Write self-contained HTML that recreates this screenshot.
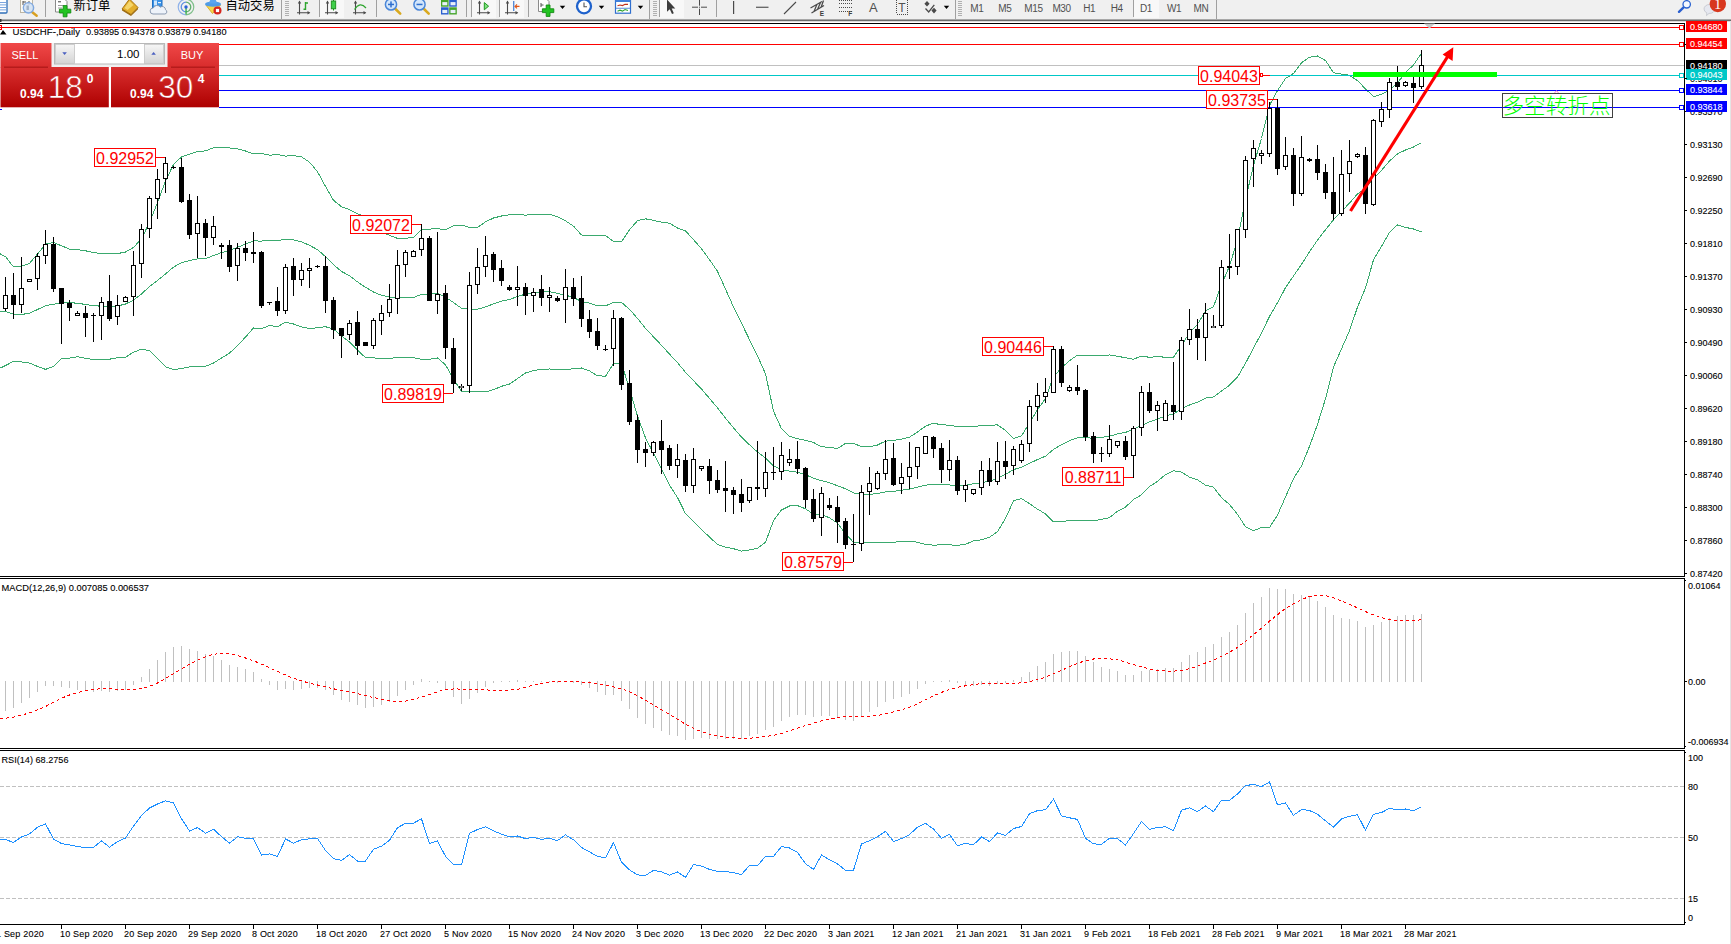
<!DOCTYPE html>
<html><head><meta charset="utf-8"><title>USDCHF Daily</title>
<style>html,body{margin:0;padding:0;background:#fff;overflow:hidden}svg text{white-space:pre}</style></head>
<body><svg width="1731" height="944" viewBox="0 0 1731 944" font-family='"Liberation Sans","Noto Sans CJK SC",sans-serif' style="display:block">
<rect x="0" y="0" width="1731" height="944" fill="#fff" />
<g id="toolbar">
<rect x="0" y="0" width="1731" height="19" fill="#f0f0f0"/>
<rect x="0" y="19" width="1731" height="1" fill="#a8a8a8"/>
<rect x="0" y="20" width="1731" height="1" fill="#6c6c6c"/>
<rect x="0" y="21" width="1731" height="1" fill="#dcdcdc"/>
<rect x="0" y="19" width="1.5" height="3" fill="#333"/>
<rect x="-2" y="-3" width="9" height="16" rx="1" fill="#fff" stroke="#2f6fb8" stroke-width="1.3"/>
<rect x="0" y="2" width="6" height="0.8" fill="#5b8fd6"/>
<rect x="0" y="4.5" width="6" height="0.8" fill="#5b8fd6"/>
<rect x="0" y="7" width="6" height="0.8" fill="#5b8fd6"/>
<rect x="0" y="9.5" width="6" height="0.8" fill="#5b8fd6"/>
<rect x="20.5" y="-3" width="12" height="15.5" fill="#fbfaf5" stroke="#bdb6a5" stroke-width="1"/>
<path d="M23 5 v-4 M23 2 h3 M29 5 v-4 M27 3 h2" stroke="#555" stroke-width="1" fill="none"/>
<line x1="32" y1="12" x2="36.7" y2="15.8" stroke="#d8a021" stroke-width="2.4" stroke-linecap="round"/>
<circle cx="28.5" cy="7.8" r="5.2" fill="#cfe0f5" fill-opacity="0.85" stroke="#7fa8e0" stroke-width="1.3"/>
<rect x="26.5" y="5.5" width="2.4" height="4.5" fill="#9fb2c8"/>
<rect x="45" y="0" width="1" height="17" fill="#a0a0a0" shape-rendering="crispEdges"/>
<path d="M55.5 -2 h8 l3.5 3.5 v10.5 h-11.5z" fill="#fff" stroke="#8a8a8a" stroke-width="1"/>
<rect x="58" y="1" width="3" height="1.4" fill="#777"/><rect x="58" y="5" width="6" height="1" fill="#999"/><rect x="58" y="7.5" width="4" height="1" fill="#999"/>
<path d="M63.2 5.6 h3.8 v3.6 h3.8 v3.8 h-3.8 v3.8 h-3.8 v-3.8 h-3.8 v-3.8 h3.8z" fill="#22c322" stroke="#128a12" stroke-width="0.9"/>
<text x="73.5" y="9.5" font-size="12.3" fill="#000">新订单</text>
<path d="M129.5 -1 L138 7.5 L131 14.5 L122 9 Z" fill="#e3ae2c" stroke="#a87410" stroke-width="1"/>
<path d="M129.5 1 L133.5 5 L127.5 10 L124.5 8 Z" fill="#f5d56a"/>
<path d="M122 9 L131 14.5 L138 7.5 L138 9.2 L131 16 L122 10.6Z" fill="#9c6a10"/>
<rect x="152.5" y="-2" width="9.5" height="10" fill="#3a92e6" stroke="#1f6fc4" stroke-width="1"/>
<rect x="154" y="0.5" width="3" height="5" fill="#cfe6fb"/><rect x="158" y="2" width="3" height="1.2" fill="#e8f3fd"/>
<path d="M153 14 a3 3 0 0 1 0.3 -6 a4 4 0 0 1 7 -0.8 a3.2 3.2 0 0 1 5.2 2.6 a2.2 2.2 0 0 1 -0.6 4.2z" fill="#eef3fa" stroke="#8b9bb2" stroke-width="1"/>
<path d="M186 14.8 A7.8 7.8 0 0 1 186 -0.8" fill="none" stroke="#8fb2ea" stroke-width="1.2"/>
<path d="M186 11.8 A4.8 4.8 0 0 1 186 2.2" fill="none" stroke="#5f8fe0" stroke-width="1.3"/>
<path d="M186 -0.8 A7.8 7.8 0 0 1 186 14.8" fill="none" stroke="#7fbf8a" stroke-width="1.2"/>
<path d="M186 2.2 A4.8 4.8 0 0 1 186 11.8" fill="none" stroke="#5fae6c" stroke-width="1.3"/>
<rect x="185.4" y="7" width="1.3" height="7.5" fill="#2fae3f"/>
<circle cx="186" cy="7" r="1.7" fill="#2a62d8"/>
<path d="M206 5.2 L212.5 13.6 L220.5 5.2Z" fill="#f6d64a" stroke="#d1a51e" stroke-width="0.8"/>
<ellipse cx="213" cy="4.2" rx="8" ry="2.6" fill="#4f9be6"/>
<path d="M209 3.5 q1 -5 4 -6 q3 1 4 6z" fill="#5aa5ee"/>
<circle cx="217.5" cy="10.5" r="4" fill="#d6261c"/>
<rect x="215.9" y="8.9" width="3.2" height="3.2" fill="#fff"/>
<text x="225.5" y="9.5" font-size="12.3" fill="#000">自动交易</text>
<rect x="281" y="0" width="1" height="19" fill="#a0a0a0" shape-rendering="crispEdges"/>
<rect x="285" y="1" width="4" height="1" fill="#b0b0b0" shape-rendering="crispEdges"/>
<rect x="285" y="3" width="4" height="1" fill="#b0b0b0" shape-rendering="crispEdges"/>
<rect x="285" y="5" width="4" height="1" fill="#b0b0b0" shape-rendering="crispEdges"/>
<rect x="285" y="7" width="4" height="1" fill="#b0b0b0" shape-rendering="crispEdges"/>
<rect x="285" y="9" width="4" height="1" fill="#b0b0b0" shape-rendering="crispEdges"/>
<rect x="285" y="11" width="4" height="1" fill="#b0b0b0" shape-rendering="crispEdges"/>
<rect x="285" y="13" width="4" height="1" fill="#b0b0b0" shape-rendering="crispEdges"/>
<rect x="285" y="15" width="4" height="1" fill="#b0b0b0" shape-rendering="crispEdges"/>
<path d="M299.5 14.5 V1.5 M297 12.7 H309.5" stroke="#4a4a4a" stroke-width="1.1" fill="none"/>
<path d="M297.8 3.4 L299.5 0.6 L301.2 3.4Z M307.5 11 L310.3 12.7 L307.5 14.4Z" fill="#4a4a4a"/>
<path d="M305.5 2 V10 M305.5 3 H308 M303.5 9.2 H305.5" stroke="#2ea52e" stroke-width="1.4" fill="none"/>
<rect x="319" y="0" width="1" height="17" fill="#a0a0a0" shape-rendering="crispEdges"/>
<rect x="320" y="0" width="24" height="18" fill="#f8f8f8"/>
<path d="M327.5 14.5 V1.5 M325 12.7 H337.5" stroke="#4a4a4a" stroke-width="1.1" fill="none"/>
<path d="M325.8 3.4 L327.5 0.6 L329.2 3.4Z M335.5 11 L338.3 12.7 L335.5 14.4Z" fill="#4a4a4a"/>
<rect x="333" y="-0.5" width="1" height="11" fill="#1d8a1d"/><rect x="331.3" y="1" width="4.4" height="7.8" fill="#3fd04a" stroke="#1d8a1d" stroke-width="0.9"/>
<path d="M355.5 14.5 V1.5 M353 12.7 H365.5" stroke="#4a4a4a" stroke-width="1.1" fill="none"/>
<path d="M353.8 3.4 L355.5 0.6 L357.2 3.4Z M363.5 11 L366.3 12.7 L363.5 14.4Z" fill="#4a4a4a"/>
<path d="M354.5 9.5 Q360 1 366 8" stroke="#2ea52e" stroke-width="1.2" fill="none"/>
<rect x="376" y="0" width="1" height="17" fill="#a0a0a0" shape-rendering="crispEdges"/>
<line x1="395" y1="8.5" x2="400.2" y2="13.6" stroke="#d9a91f" stroke-width="2.6" stroke-linecap="round"/>
<circle cx="391" cy="4.4" r="5.6" fill="#d3e6fb" stroke="#4a86d8" stroke-width="1.5"/>
<rect x="388" y="3.7" width="6" height="1.5" fill="#2f6fce"/>
<rect x="390.25" y="1.4" width="1.5" height="6" fill="#2f6fce"/>
<line x1="423.5" y1="8.5" x2="428.7" y2="13.6" stroke="#d9a91f" stroke-width="2.6" stroke-linecap="round"/>
<circle cx="419.5" cy="4.4" r="5.6" fill="#d3e6fb" stroke="#4a86d8" stroke-width="1.5"/>
<rect x="416.5" y="3.7" width="6" height="1.5" fill="#2f6fce"/>
<rect x="441" y="-0.5" width="7.6" height="7.2" fill="#46a52a"/>
<rect x="442.3" y="2.1" width="5" height="3.2" fill="#e8f0fa"/>
<rect x="449.2" y="-0.5" width="7.6" height="7.2" fill="#2a5fd0"/>
<rect x="450.5" y="2.1" width="5" height="3.2" fill="#e8f0fa"/>
<rect x="441" y="7.3" width="7.6" height="7.2" fill="#2a5fd0"/>
<rect x="442.3" y="9.9" width="5" height="3.2" fill="#e8f0fa"/>
<rect x="449.2" y="7.3" width="7.6" height="7.2" fill="#46a52a"/>
<rect x="450.5" y="9.9" width="5" height="3.2" fill="#e8f0fa"/>
<rect x="466" y="0" width="1" height="17" fill="#a0a0a0" shape-rendering="crispEdges"/>
<rect x="471" y="0" width="1" height="17" fill="#a0a0a0" shape-rendering="crispEdges"/>
<rect x="472" y="0" width="24" height="18" fill="#f8f8f8"/>
<path d="M479.5 14.5 V1.5 M477 12.7 H489.5" stroke="#4a4a4a" stroke-width="1.1" fill="none"/>
<path d="M477.8 3.4 L479.5 0.6 L481.2 3.4Z M487.5 11 L490.3 12.7 L487.5 14.4Z" fill="#4a4a4a"/>
<polygon points="484.3,2.6 484.3,9.8 488.6,6.2" fill="#7fe07f" stroke="#1f9a1f" stroke-width="1"/>
<rect x="499" y="0" width="1" height="17" fill="#a0a0a0" shape-rendering="crispEdges"/>
<rect x="500" y="0" width="24" height="18" fill="#f8f8f8"/>
<path d="M507.5 14.5 V1.5 M505 12.7 H517.5" stroke="#4a4a4a" stroke-width="1.1" fill="none"/>
<path d="M505.8 3.4 L507.5 0.6 L509.2 3.4Z M515.5 11 L518.3 12.7 L515.5 14.4Z" fill="#4a4a4a"/>
<rect x="513.2" y="1" width="1.1" height="10" fill="#2f6fce"/>
<path d="M519.5 6.4 H515 M517 4.4 L515 6.4 L517 8.4" stroke="#e0561a" stroke-width="1.1" fill="none"/>
<rect x="528" y="0" width="1" height="17" fill="#a0a0a0" shape-rendering="crispEdges"/>
<path d="M538.5 -2 h7 l3.5 3.5 v10 h-10.5z" fill="#fff" stroke="#8a8a8a" stroke-width="1"/>
<path d="M541 3 v4 M541 5 h2.5" stroke="#555" stroke-width="1" fill="none"/>
<path d="M546.2 5 h3.8 v3.8 h3.8 v3.8 h-3.8 v3.8 h-3.8 v-3.8 h-3.8 v-3.8 h3.8z" fill="#22c322" stroke="#128a12" stroke-width="0.9"/>
<polygon points="559.8,5.8 565.2,5.8 562.5,9" fill="#000"/>
<circle cx="584" cy="6.3" r="7" fill="#fff" stroke="#1f62cc" stroke-width="2.3"/>
<path d="M584 2.5 V6.8 H587" stroke="#555" stroke-width="1.1" fill="none"/>
<polygon points="598.8,5.8 604.2,5.8 601.5,9" fill="#000"/>
<rect x="615.5" y="-1" width="15" height="14.2" fill="#fff" stroke="#2f6fce" stroke-width="1.2"/>
<rect x="615.5" y="-1" width="15" height="3" fill="#3f7fdc"/>
<path d="M617.5 5.8 l2.5 -0.8 l2.5 0.6 l2.5 -1.4 l3 0.2" stroke="#c0301c" stroke-width="1.1" fill="none"/>
<rect x="616" y="7.8" width="14" height="0.8" fill="#2f6fce"/>
<path d="M617.5 11.2 l2.5 -1 l2.5 0.9 l2.5 -1.6 l3 1" stroke="#2ea52e" stroke-width="1.1" fill="none"/>
<polygon points="637.8,5.8 643.2,5.8 640.5,9" fill="#000"/>
<rect x="649" y="0" width="1" height="19" fill="#a0a0a0" shape-rendering="crispEdges"/>
<rect x="653" y="1" width="4" height="1" fill="#b0b0b0" shape-rendering="crispEdges"/>
<rect x="653" y="3" width="4" height="1" fill="#b0b0b0" shape-rendering="crispEdges"/>
<rect x="653" y="5" width="4" height="1" fill="#b0b0b0" shape-rendering="crispEdges"/>
<rect x="653" y="7" width="4" height="1" fill="#b0b0b0" shape-rendering="crispEdges"/>
<rect x="653" y="9" width="4" height="1" fill="#b0b0b0" shape-rendering="crispEdges"/>
<rect x="653" y="11" width="4" height="1" fill="#b0b0b0" shape-rendering="crispEdges"/>
<rect x="653" y="13" width="4" height="1" fill="#b0b0b0" shape-rendering="crispEdges"/>
<rect x="653" y="15" width="4" height="1" fill="#b0b0b0" shape-rendering="crispEdges"/>
<rect x="660" y="0" width="24" height="18" fill="#f8f8f8"/>
<rect x="659" y="0" width="1" height="17" fill="#a0a0a0" shape-rendering="crispEdges"/>
<path d="M667 -0.5 L667 11.8 L669.8 9.2 L672 14 L673.8 13.2 L671.7 8.6 L675.3 8.4Z" fill="#3c3c3c"/>
<path d="M699.5 0 V5.7 M699.5 8.7 V15 M692 7.2 H698 M701 7.2 H707" stroke="#4a4a4a" stroke-width="1" fill="none"/><rect x="699" y="6.7" width="1" height="1" fill="#4a4a4a"/>
<rect x="716" y="0" width="1" height="17" fill="#a0a0a0" shape-rendering="crispEdges"/>
<rect x="733" y="1" width="1.2" height="13" fill="#4a4a4a"/>
<rect x="756" y="6.7" width="12.5" height="1.1" fill="#4a4a4a"/>
<line x1="784" y1="14" x2="796" y2="2" stroke="#4a4a4a" stroke-width="1.1"/>
<path d="M810.5 8 L822 1.5 M811.5 13 L824 5.5 M814 11.5 L817 4.2 M817.5 9.5 L820.5 2.5 M821 7.5 L823.5 0.5" stroke="#4a4a4a" stroke-width="1.25" fill="none"/>
<text x="819.7" y="16.3" font-size="6.5" font-weight="bold" fill="#3c3c3c">E</text>
<line x1="838.5" y1="0.5" x2="852" y2="0.5" stroke="#4a4a4a" stroke-width="1" stroke-dasharray="1 1" shape-rendering="crispEdges"/>
<line x1="838.5" y1="3.5" x2="852" y2="3.5" stroke="#4a4a4a" stroke-width="1" stroke-dasharray="1 1" shape-rendering="crispEdges"/>
<line x1="838.5" y1="7.5" x2="852" y2="7.5" stroke="#4a4a4a" stroke-width="1" stroke-dasharray="1 1" shape-rendering="crispEdges"/>
<line x1="838.5" y1="11.5" x2="852" y2="11.5" stroke="#4a4a4a" stroke-width="1" stroke-dasharray="1 1" shape-rendering="crispEdges"/>
<text x="848.3" y="16.3" font-size="6.5" font-weight="bold" fill="#3c3c3c">F</text>
<text x="869" y="12" font-size="13" fill="#505050">A</text>
<rect x="896.5" y="-1" width="11" height="15" fill="none" stroke="#4a4a4a" stroke-width="1" stroke-dasharray="1 1" shape-rendering="crispEdges"/>
<text x="898.2" y="12.2" font-size="12" fill="#505050">T</text>
<path d="M927 1 l2.6 2.8 l-2.6 2.8 l-2.6 -2.8z M934 7.8 l2.6 2.8 l-2.6 2.8 l-2.6 -2.8z" fill="#4a4a4a"/>
<path d="M925.5 8.5 l3.2 3.4 l5.6 -7" stroke="#4a4a4a" stroke-width="1.3" fill="none"/>
<polygon points="943.8,5.8 949.2,5.8 946.5,9" fill="#000"/>
<rect x="955" y="0" width="1" height="19" fill="#a0a0a0" shape-rendering="crispEdges"/>
<rect x="958" y="1" width="4" height="1" fill="#b0b0b0" shape-rendering="crispEdges"/>
<rect x="958" y="3" width="4" height="1" fill="#b0b0b0" shape-rendering="crispEdges"/>
<rect x="958" y="5" width="4" height="1" fill="#b0b0b0" shape-rendering="crispEdges"/>
<rect x="958" y="7" width="4" height="1" fill="#b0b0b0" shape-rendering="crispEdges"/>
<rect x="958" y="9" width="4" height="1" fill="#b0b0b0" shape-rendering="crispEdges"/>
<rect x="958" y="11" width="4" height="1" fill="#b0b0b0" shape-rendering="crispEdges"/>
<rect x="958" y="13" width="4" height="1" fill="#b0b0b0" shape-rendering="crispEdges"/>
<rect x="958" y="15" width="4" height="1" fill="#b0b0b0" shape-rendering="crispEdges"/>
<text x="970.3" y="11.6" font-size="10" fill="#505050" letter-spacing="-0.4">M1</text>
<text x="998.3" y="11.6" font-size="10" fill="#505050" letter-spacing="-0.4">M5</text>
<text x="1024.3" y="11.6" font-size="10" fill="#505050" letter-spacing="-0.4">M15</text>
<text x="1052.4" y="11.6" font-size="10" fill="#505050" letter-spacing="-0.4">M30</text>
<text x="1083.2" y="11.6" font-size="10" fill="#505050" letter-spacing="-0.4">H1</text>
<text x="1110.7" y="11.6" font-size="10" fill="#505050" letter-spacing="-0.4">H4</text>
<rect x="1133" y="0" width="1" height="17" fill="#a0a0a0" shape-rendering="crispEdges"/>
<rect x="1134" y="0" width="25" height="18" fill="#f8f8f8"/>
<text x="1140" y="11.6" font-size="10" fill="#505050" letter-spacing="-0.4">D1</text>
<text x="1167" y="11.6" font-size="10" fill="#505050" letter-spacing="-0.4">W1</text>
<text x="1193.5" y="11.6" font-size="10" fill="#505050" letter-spacing="-0.4">MN</text>
<rect x="1216" y="0" width="1" height="19" fill="#a0a0a0" shape-rendering="crispEdges"/>
<line x1="1683.6" y1="7.4" x2="1679" y2="11.8" stroke="#2a5fd0" stroke-width="2.4" stroke-linecap="round"/>
<circle cx="1686.7" cy="4.3" r="3.7" fill="#f4f8ff" stroke="#2a62d0" stroke-width="1.3"/>
<path d="M1704 9 a5.5 4.5 0 0 1 11 0 a5.5 4.5 0 0 1 -6 4.4 l-2.5 2.2 l0.3 -2.8 a5 4.5 0 0 1 -2.8 -3.8z" fill="#e6e8f0" stroke="#c2c4cc" stroke-width="0.8"/>
<circle cx="1717.8" cy="4" r="8.2" fill="#d8381f"/>
<text x="1717.8" y="9.2" font-size="14" fill="#fff" text-anchor="middle" font-family='"Liberation Serif",serif'>1</text>
</g>
<g shape-rendering="crispEdges">
<rect x="0" y="23" width="1685" height="1" fill="#000" />
<rect x="1684" y="23" width="1" height="554" fill="#000" />
<rect x="1684" y="578" width="1" height="171" fill="#000" />
<rect x="1684" y="750" width="1" height="175" fill="#000" />
<rect x="0" y="576" width="1685" height="1" fill="#000" />
<rect x="0" y="578" width="1685" height="1" fill="#000" />
<rect x="0" y="748" width="1685" height="1" fill="#000" />
<rect x="0" y="750" width="1685" height="1" fill="#000" />
<rect x="0" y="924" width="1685" height="1" fill="#000" />
<rect x="1730" y="21" width="1" height="923" fill="#e4e4e4" />
<rect x="0" y="65" width="1684" height="1" fill="#c0c0c0" />
</g>
<polyline points="0.0,253.8 5.5,256.6 13.5,266.9 21.5,266.3 29.5,263.3 37.5,254.1 45.5,244.1 53.5,242.5 61.5,245.8 69.5,249.1 77.5,249.6 85.5,250.8 93.5,252.5 101.5,253.6 109.5,253.6 117.5,253.6 125.5,252.0 133.5,247.5 141.5,238.8 149.5,222.5 157.5,202.4 165.5,181.0 173.5,164.5 181.5,156.9 189.5,154.3 197.5,151.4 205.5,150.9 213.5,147.8 221.5,147.2 229.5,148.0 237.5,148.9 245.5,151.0 253.5,153.8 261.5,153.4 269.5,155.2 277.5,154.5 285.5,156.1 293.5,155.6 301.5,156.8 309.5,162.1 317.5,171.7 325.5,186.4 333.5,200.3 341.5,206.7 349.5,209.6 357.5,213.8 365.5,216.8 373.5,226.1 381.5,232.2 389.5,235.3 397.5,238.4 405.5,238.2 413.5,237.7 421.5,229.2 429.5,229.1 437.5,228.7 445.5,229.8 453.5,225.9 461.5,225.1 469.5,227.3 477.5,227.4 485.5,221.9 493.5,218.0 501.5,216.0 509.5,214.8 517.5,214.5 525.5,215.1 533.5,214.6 541.5,214.4 549.5,214.2 557.5,216.8 565.5,220.9 573.5,226.1 581.5,235.0 589.5,235.2 597.5,235.5 605.5,235.4 613.5,241.4 621.5,241.6 629.5,229.9 637.5,220.6 645.5,218.8 653.5,220.4 661.5,222.1 669.5,223.2 677.5,228.0 685.5,231.0 693.5,239.6 701.5,248.8 709.5,259.7 717.5,271.3 725.5,289.0 733.5,307.0 741.5,323.1 749.5,339.7 757.5,355.8 765.5,373.8 773.5,411.1 781.5,428.7 789.5,436.4 797.5,438.7 805.5,440.3 813.5,442.5 821.5,446.7 829.5,447.5 837.5,448.5 845.5,443.4 853.5,443.6 861.5,446.4 869.5,446.7 877.5,445.0 885.5,441.1 893.5,440.5 901.5,439.1 909.5,437.2 917.5,432.0 925.5,426.2 933.5,423.1 941.5,424.9 949.5,425.1 957.5,426.6 965.5,426.2 973.5,426.7 981.5,425.5 989.5,425.3 997.5,424.9 1005.5,430.4 1013.5,438.4 1021.5,435.8 1029.5,423.1 1037.5,409.8 1045.5,398.5 1053.5,376.8 1061.5,367.8 1069.5,360.7 1077.5,355.1 1085.5,355.1 1093.5,355.2 1101.5,355.3 1109.5,355.0 1117.5,356.3 1125.5,357.7 1133.5,359.2 1141.5,356.1 1149.5,357.3 1157.5,356.7 1165.5,357.2 1173.5,357.3 1181.5,345.5 1189.5,332.8 1197.5,324.2 1205.5,311.0 1213.5,306.7 1221.5,284.7 1229.5,265.9 1237.5,239.9 1245.5,199.7 1253.5,165.2 1261.5,138.5 1269.5,105.4 1277.5,90.5 1285.5,78.5 1293.5,73.4 1301.5,62.7 1309.5,57.2 1317.5,56.0 1325.5,60.5 1333.5,72.7 1341.5,74.1 1349.5,75.3 1357.5,80.6 1365.5,88.9 1373.5,96.6 1381.5,94.4 1389.5,89.8 1397.5,82.9 1405.5,72.6 1413.5,64.9 1421.5,53.2" fill="none" stroke="#3aaa6e" stroke-width="1" shape-rendering="crispEdges"/>
<polyline points="0.0,311.2 5.5,311.5 13.5,314.3 21.5,314.5 29.5,313.2 37.5,309.5 45.5,305.7 53.5,304.3 61.5,302.3 69.5,302.7 77.5,303.2 85.5,304.5 93.5,305.7 101.5,306.2 109.5,306.5 117.5,306.0 125.5,304.0 133.5,300.2 141.5,294.0 149.5,286.5 157.5,280.5 165.5,273.9 173.5,267.1 181.5,262.7 189.5,260.6 197.5,258.9 205.5,258.6 213.5,255.5 221.5,252.6 229.5,250.5 237.5,247.3 245.5,244.1 253.5,240.9 261.5,241.1 269.5,240.3 277.5,240.6 285.5,239.1 293.5,239.8 301.5,241.9 309.5,245.3 317.5,249.7 325.5,256.6 333.5,264.7 341.5,271.4 349.5,275.8 357.5,281.9 365.5,287.3 373.5,292.0 381.5,295.3 389.5,297.0 397.5,297.8 405.5,297.8 413.5,297.6 421.5,294.3 429.5,294.2 437.5,293.3 445.5,297.3 453.5,302.5 461.5,308.3 469.5,309.2 477.5,309.2 485.5,306.9 493.5,303.9 501.5,301.2 509.5,299.5 517.5,296.5 525.5,294.1 533.5,292.6 541.5,291.8 549.5,291.6 557.5,293.4 565.5,295.1 573.5,297.5 581.5,301.5 589.5,303.1 597.5,305.7 605.5,305.8 613.5,302.5 621.5,302.4 629.5,309.3 637.5,318.4 645.5,328.3 653.5,336.9 661.5,345.3 669.5,354.1 677.5,362.7 685.5,372.3 693.5,380.7 701.5,389.1 709.5,398.4 717.5,407.9 725.5,418.1 733.5,427.9 741.5,437.1 749.5,444.8 757.5,452.0 765.5,458.1 773.5,465.9 781.5,469.4 789.5,471.2 797.5,472.2 805.5,474.5 813.5,478.4 821.5,480.6 829.5,482.7 837.5,485.8 845.5,488.7 853.5,493.0 861.5,494.2 869.5,494.4 877.5,493.6 885.5,491.9 893.5,491.4 901.5,490.2 909.5,489.2 917.5,487.1 925.5,485.3 933.5,484.1 941.5,484.9 949.5,484.9 957.5,486.0 965.5,485.3 973.5,483.8 981.5,482.6 989.5,481.3 997.5,478.3 1005.5,474.4 1013.5,469.6 1021.5,467.2 1029.5,463.4 1037.5,459.5 1045.5,456.2 1053.5,449.4 1061.5,444.7 1069.5,440.7 1077.5,437.8 1085.5,437.9 1093.5,438.1 1101.5,437.3 1109.5,436.3 1117.5,433.8 1125.5,432.4 1133.5,429.4 1141.5,425.4 1149.5,421.9 1157.5,419.1 1165.5,415.9 1173.5,414.0 1181.5,408.8 1189.5,405.0 1197.5,402.1 1205.5,398.1 1213.5,396.9 1221.5,391.1 1229.5,385.2 1237.5,377.1 1245.5,363.3 1253.5,348.0 1261.5,333.0 1269.5,316.4 1277.5,302.8 1285.5,287.7 1293.5,276.0 1301.5,264.3 1309.5,251.8 1317.5,240.2 1325.5,229.7 1333.5,219.8 1341.5,211.5 1349.5,203.1 1357.5,193.9 1365.5,188.5 1373.5,178.2 1381.5,170.3 1389.5,161.0 1397.5,153.9 1405.5,150.0 1413.5,147.0 1421.5,142.6" fill="none" stroke="#3aaa6e" stroke-width="1" shape-rendering="crispEdges"/>
<polyline points="0.0,368.2 5.5,365.5 13.5,361.4 21.5,361.9 29.5,363.1 37.5,366.4 45.5,369.4 53.5,366.4 61.5,358.6 69.5,358.1 77.5,356.7 85.5,358.4 93.5,359.4 101.5,359.4 109.5,359.2 117.5,357.7 125.5,357.2 133.5,352.2 141.5,349.2 149.5,350.6 157.5,358.6 165.5,366.8 173.5,369.6 181.5,368.6 189.5,366.8 197.5,366.4 205.5,366.3 213.5,363.1 221.5,358.0 229.5,353.1 237.5,345.7 245.5,337.1 253.5,328.0 261.5,328.8 269.5,325.5 277.5,326.8 285.5,322.2 293.5,324.0 301.5,326.9 309.5,328.6 317.5,327.7 325.5,326.7 333.5,329.1 341.5,336.0 349.5,342.0 357.5,350.1 365.5,357.7 373.5,357.9 381.5,358.4 389.5,358.7 397.5,357.2 405.5,357.4 413.5,357.6 421.5,359.4 429.5,359.2 437.5,357.9 445.5,364.8 453.5,379.2 461.5,391.5 469.5,391.0 477.5,391.0 485.5,391.9 493.5,389.7 501.5,386.3 509.5,384.1 517.5,378.6 525.5,373.0 533.5,370.6 541.5,369.3 549.5,369.0 557.5,369.9 565.5,369.3 573.5,368.9 581.5,368.0 589.5,370.9 597.5,375.8 605.5,376.2 613.5,363.6 621.5,363.3 629.5,388.7 637.5,416.2 645.5,437.8 653.5,453.4 661.5,468.6 669.5,485.1 677.5,497.5 685.5,513.6 693.5,521.7 701.5,529.4 709.5,537.1 717.5,544.4 725.5,547.1 733.5,548.7 741.5,551.1 749.5,549.9 757.5,548.2 765.5,542.4 773.5,520.6 781.5,510.0 789.5,506.0 797.5,505.6 805.5,508.8 813.5,514.3 821.5,514.5 829.5,517.8 837.5,523.1 845.5,534.0 853.5,542.3 861.5,542.1 869.5,542.1 877.5,542.1 885.5,542.8 893.5,542.4 901.5,541.2 909.5,541.2 917.5,542.2 925.5,544.4 933.5,545.2 941.5,544.8 949.5,544.8 957.5,545.4 965.5,544.3 973.5,540.8 981.5,539.8 989.5,537.3 997.5,531.7 1005.5,518.3 1013.5,500.8 1021.5,498.6 1029.5,503.7 1037.5,509.2 1045.5,513.8 1053.5,522.0 1061.5,521.5 1069.5,520.6 1077.5,520.6 1085.5,520.6 1093.5,521.0 1101.5,519.3 1109.5,517.6 1117.5,511.2 1125.5,507.1 1133.5,499.5 1141.5,494.8 1149.5,486.5 1157.5,481.4 1165.5,474.6 1173.5,470.7 1181.5,472.1 1189.5,477.1 1197.5,479.9 1205.5,485.2 1213.5,487.2 1221.5,497.6 1229.5,504.5 1237.5,514.3 1245.5,526.8 1253.5,530.8 1261.5,527.4 1269.5,527.5 1277.5,515.1 1285.5,497.0 1293.5,478.6 1301.5,465.9 1309.5,446.4 1317.5,424.4 1325.5,398.8 1333.5,366.9 1341.5,348.8 1349.5,330.8 1357.5,307.1 1365.5,288.0 1373.5,259.8 1381.5,246.3 1389.5,232.3 1397.5,224.9 1405.5,227.4 1413.5,229.0 1421.5,231.9" fill="none" stroke="#3aaa6e" stroke-width="1" shape-rendering="crispEdges"/>
<g shape-rendering="crispEdges">
<rect x="0" y="27" width="1684" height="1" fill="#ff0000" />
<rect x="1679.5" y="25.5" width="4" height="4" fill="#fff" stroke="#ff0000" stroke-width="1"/>
<rect x="0" y="44" width="1684" height="1" fill="#ff0000" />
<rect x="1679.5" y="42.5" width="4" height="4" fill="#fff" stroke="#ff0000" stroke-width="1"/>
<rect x="0" y="75" width="1684" height="1" fill="#00c8c8" />
<rect x="1679.5" y="73.5" width="4" height="4" fill="#fff" stroke="#00c8c8" stroke-width="1"/>
<rect x="0" y="90" width="1684" height="1" fill="#0000ff" />
<rect x="1679.5" y="88.5" width="4" height="4" fill="#fff" stroke="#0000ff" stroke-width="1"/>
<rect x="0" y="107" width="1684" height="1" fill="#0000ff" />
<rect x="1679.5" y="105.5" width="4" height="4" fill="#fff" stroke="#0000ff" stroke-width="1"/>
<rect x="5" y="277" width="1" height="34" fill="#000" />
<rect x="3" y="295" width="5" height="14" fill="#000" />
<rect x="4" y="296" width="3" height="12" fill="#fff" />
<rect x="13" y="273" width="1" height="46" fill="#000" />
<rect x="11" y="295" width="5" height="10" fill="#000" />
<rect x="21" y="257" width="1" height="56" fill="#000" />
<rect x="19" y="288" width="5" height="17" fill="#000" />
<rect x="20" y="289" width="3" height="15" fill="#fff" />
<rect x="29" y="279" width="1" height="3" fill="#000" />
<rect x="27" y="279" width="5" height="3" fill="#000" />
<rect x="28" y="280" width="3" height="1" fill="#fff" />
<rect x="37" y="253" width="1" height="37" fill="#000" />
<rect x="35" y="256" width="5" height="23" fill="#000" />
<rect x="36" y="257" width="3" height="21" fill="#fff" />
<rect x="45" y="230" width="1" height="34" fill="#000" />
<rect x="43" y="244" width="5" height="12" fill="#000" />
<rect x="44" y="245" width="3" height="10" fill="#fff" />
<rect x="53" y="237" width="1" height="55" fill="#000" />
<rect x="51" y="244" width="5" height="45" fill="#000" />
<rect x="61" y="288" width="1" height="56" fill="#000" />
<rect x="59" y="288" width="5" height="16" fill="#000" />
<rect x="69" y="300" width="1" height="21" fill="#000" />
<rect x="67" y="303" width="5" height="5" fill="#000" />
<rect x="77" y="311" width="1" height="5" fill="#000" />
<rect x="75" y="313" width="5" height="3" fill="#000" />
<rect x="76" y="314" width="3" height="1" fill="#fff" />
<rect x="85" y="306" width="1" height="31" fill="#000" />
<rect x="83" y="313" width="5" height="5" fill="#000" />
<rect x="93" y="313" width="1" height="29" fill="#000" />
<rect x="91" y="315" width="5" height="1" fill="#000" />
<rect x="101" y="297" width="1" height="43" fill="#000" />
<rect x="99" y="302" width="5" height="14" fill="#000" />
<rect x="100" y="303" width="3" height="12" fill="#fff" />
<rect x="109" y="275" width="1" height="46" fill="#000" />
<rect x="107" y="301" width="5" height="18" fill="#000" />
<rect x="117" y="295" width="1" height="30" fill="#000" />
<rect x="115" y="305" width="5" height="12" fill="#000" />
<rect x="116" y="306" width="3" height="10" fill="#fff" />
<rect x="125" y="296" width="1" height="6" fill="#000" />
<rect x="123" y="297" width="5" height="5" fill="#000" />
<rect x="124" y="298" width="3" height="3" fill="#fff" />
<rect x="133" y="251" width="1" height="65" fill="#000" />
<rect x="131" y="265" width="5" height="32" fill="#000" />
<rect x="132" y="266" width="3" height="30" fill="#fff" />
<rect x="141" y="224" width="1" height="54" fill="#000" />
<rect x="139" y="229" width="5" height="35" fill="#000" />
<rect x="140" y="230" width="3" height="33" fill="#fff" />
<rect x="149" y="196" width="1" height="42" fill="#000" />
<rect x="147" y="198" width="5" height="31" fill="#000" />
<rect x="148" y="199" width="3" height="29" fill="#fff" />
<rect x="157" y="169" width="1" height="50" fill="#000" />
<rect x="155" y="179" width="5" height="20" fill="#000" />
<rect x="156" y="180" width="3" height="18" fill="#fff" />
<rect x="165" y="157" width="1" height="36" fill="#000" />
<rect x="163" y="163" width="5" height="16" fill="#000" />
<rect x="164" y="164" width="3" height="14" fill="#fff" />
<rect x="173" y="166" width="1" height="3" fill="#000" />
<rect x="171" y="167" width="5" height="1" fill="#000" />
<rect x="181" y="158" width="1" height="45" fill="#000" />
<rect x="179" y="167" width="5" height="35" fill="#000" />
<rect x="189" y="194" width="1" height="45" fill="#000" />
<rect x="187" y="200" width="5" height="35" fill="#000" />
<rect x="197" y="196" width="1" height="62" fill="#000" />
<rect x="195" y="223" width="5" height="11" fill="#000" />
<rect x="196" y="224" width="3" height="9" fill="#fff" />
<rect x="205" y="219" width="1" height="37" fill="#000" />
<rect x="203" y="223" width="5" height="15" fill="#000" />
<rect x="213" y="216" width="1" height="29" fill="#000" />
<rect x="211" y="226" width="5" height="12" fill="#000" />
<rect x="212" y="227" width="3" height="10" fill="#fff" />
<rect x="221" y="243" width="1" height="16" fill="#000" />
<rect x="219" y="245" width="5" height="2" fill="#000" />
<rect x="229" y="240" width="1" height="32" fill="#000" />
<rect x="227" y="245" width="5" height="22" fill="#000" />
<rect x="237" y="243" width="1" height="38" fill="#000" />
<rect x="235" y="248" width="5" height="18" fill="#000" />
<rect x="236" y="249" width="3" height="16" fill="#fff" />
<rect x="245" y="241" width="1" height="20" fill="#000" />
<rect x="243" y="248" width="5" height="5" fill="#000" />
<rect x="253" y="232" width="1" height="31" fill="#000" />
<rect x="251" y="252" width="5" height="2" fill="#000" />
<rect x="261" y="251" width="1" height="57" fill="#000" />
<rect x="259" y="252" width="5" height="54" fill="#000" />
<rect x="269" y="302" width="1" height="3" fill="#000" />
<rect x="267" y="302" width="5" height="1" fill="#000" />
<rect x="277" y="287" width="1" height="29" fill="#000" />
<rect x="275" y="301" width="5" height="10" fill="#000" />
<rect x="285" y="264" width="1" height="50" fill="#000" />
<rect x="283" y="267" width="5" height="44" fill="#000" />
<rect x="284" y="268" width="3" height="42" fill="#fff" />
<rect x="293" y="258" width="1" height="38" fill="#000" />
<rect x="291" y="266" width="5" height="14" fill="#000" />
<rect x="301" y="263" width="1" height="23" fill="#000" />
<rect x="299" y="270" width="5" height="10" fill="#000" />
<rect x="300" y="271" width="3" height="8" fill="#fff" />
<rect x="309" y="258" width="1" height="30" fill="#000" />
<rect x="307" y="268" width="5" height="3" fill="#000" />
<rect x="308" y="269" width="3" height="1" fill="#fff" />
<rect x="317" y="265" width="1" height="3" fill="#000" />
<rect x="315" y="266" width="5" height="1" fill="#000" />
<rect x="325" y="256" width="1" height="57" fill="#000" />
<rect x="323" y="266" width="5" height="35" fill="#000" />
<rect x="333" y="297" width="1" height="42" fill="#000" />
<rect x="331" y="300" width="5" height="30" fill="#000" />
<rect x="341" y="328" width="1" height="30" fill="#000" />
<rect x="339" y="328" width="5" height="8" fill="#000" />
<rect x="349" y="320" width="1" height="20" fill="#000" />
<rect x="347" y="323" width="5" height="12" fill="#000" />
<rect x="348" y="324" width="3" height="10" fill="#fff" />
<rect x="357" y="311" width="1" height="44" fill="#000" />
<rect x="355" y="322" width="5" height="24" fill="#000" />
<rect x="365" y="342" width="1" height="4" fill="#000" />
<rect x="363" y="342" width="5" height="4" fill="#000" />
<rect x="373" y="318" width="1" height="31" fill="#000" />
<rect x="371" y="320" width="5" height="26" fill="#000" />
<rect x="372" y="321" width="3" height="24" fill="#fff" />
<rect x="381" y="305" width="1" height="30" fill="#000" />
<rect x="379" y="313" width="5" height="8" fill="#000" />
<rect x="380" y="314" width="3" height="6" fill="#fff" />
<rect x="389" y="284" width="1" height="33" fill="#000" />
<rect x="387" y="299" width="5" height="14" fill="#000" />
<rect x="388" y="300" width="3" height="12" fill="#fff" />
<rect x="397" y="250" width="1" height="64" fill="#000" />
<rect x="395" y="265" width="5" height="34" fill="#000" />
<rect x="396" y="266" width="3" height="32" fill="#fff" />
<rect x="405" y="250" width="1" height="27" fill="#000" />
<rect x="403" y="252" width="5" height="13" fill="#000" />
<rect x="404" y="253" width="3" height="11" fill="#fff" />
<rect x="413" y="250" width="1" height="7" fill="#000" />
<rect x="411" y="251" width="5" height="6" fill="#000" />
<rect x="412" y="252" width="3" height="4" fill="#fff" />
<rect x="421" y="224" width="1" height="32" fill="#000" />
<rect x="419" y="238" width="5" height="12" fill="#000" />
<rect x="420" y="239" width="3" height="10" fill="#fff" />
<rect x="429" y="236" width="1" height="65" fill="#000" />
<rect x="427" y="238" width="5" height="63" fill="#000" />
<rect x="437" y="232" width="1" height="82" fill="#000" />
<rect x="435" y="294" width="5" height="7" fill="#000" />
<rect x="436" y="295" width="3" height="5" fill="#fff" />
<rect x="445" y="285" width="1" height="74" fill="#000" />
<rect x="443" y="293" width="5" height="55" fill="#000" />
<rect x="453" y="338" width="1" height="55" fill="#000" />
<rect x="451" y="348" width="5" height="36" fill="#000" />
<rect x="461" y="384" width="1" height="7" fill="#000" />
<rect x="459" y="386" width="5" height="2" fill="#000" />
</g><rect x="460" y="386.55" width="3" height="0.9" fill="#fff"/><g shape-rendering="crispEdges">
<rect x="469" y="272" width="1" height="121" fill="#000" />
<rect x="467" y="285" width="5" height="101" fill="#000" />
<rect x="468" y="286" width="3" height="99" fill="#fff" />
<rect x="477" y="248" width="1" height="46" fill="#000" />
<rect x="475" y="267" width="5" height="18" fill="#000" />
<rect x="476" y="268" width="3" height="16" fill="#fff" />
<rect x="485" y="236" width="1" height="41" fill="#000" />
<rect x="483" y="255" width="5" height="12" fill="#000" />
<rect x="484" y="256" width="3" height="10" fill="#fff" />
<rect x="493" y="252" width="1" height="30" fill="#000" />
<rect x="491" y="254" width="5" height="16" fill="#000" />
<rect x="501" y="260" width="1" height="26" fill="#000" />
<rect x="499" y="268" width="5" height="13" fill="#000" />
<rect x="509" y="285" width="1" height="6" fill="#000" />
<rect x="507" y="287" width="5" height="3" fill="#000" />
<rect x="517" y="266" width="1" height="40" fill="#000" />
<rect x="515" y="287" width="5" height="3" fill="#000" />
<rect x="516" y="288" width="3" height="1" fill="#fff" />
<rect x="525" y="283" width="1" height="32" fill="#000" />
<rect x="523" y="287" width="5" height="9" fill="#000" />
<rect x="533" y="288" width="1" height="24" fill="#000" />
<rect x="531" y="292" width="5" height="4" fill="#000" />
<rect x="532" y="293" width="3" height="2" fill="#fff" />
<rect x="541" y="275" width="1" height="31" fill="#000" />
<rect x="539" y="289" width="5" height="9" fill="#000" />
<rect x="549" y="287" width="1" height="25" fill="#000" />
<rect x="547" y="295" width="5" height="3" fill="#000" />
<rect x="548" y="296" width="3" height="1" fill="#fff" />
<rect x="557" y="296" width="1" height="6" fill="#000" />
<rect x="555" y="298" width="5" height="3" fill="#000" />
<rect x="565" y="269" width="1" height="54" fill="#000" />
<rect x="563" y="287" width="5" height="13" fill="#000" />
<rect x="564" y="288" width="3" height="11" fill="#fff" />
<rect x="573" y="278" width="1" height="28" fill="#000" />
<rect x="571" y="287" width="5" height="12" fill="#000" />
<rect x="581" y="276" width="1" height="51" fill="#000" />
<rect x="579" y="298" width="5" height="21" fill="#000" />
<rect x="589" y="310" width="1" height="28" fill="#000" />
<rect x="587" y="319" width="5" height="13" fill="#000" />
<rect x="597" y="318" width="1" height="32" fill="#000" />
<rect x="595" y="331" width="5" height="15" fill="#000" />
<rect x="605" y="345" width="1" height="6" fill="#000" />
<rect x="603" y="349" width="5" height="1" fill="#000" />
<rect x="613" y="310" width="1" height="56" fill="#000" />
<rect x="611" y="318" width="5" height="31" fill="#000" />
<rect x="612" y="319" width="3" height="29" fill="#fff" />
<rect x="621" y="317" width="1" height="73" fill="#000" />
<rect x="619" y="318" width="5" height="67" fill="#000" />
<rect x="629" y="370" width="1" height="55" fill="#000" />
<rect x="627" y="383" width="5" height="39" fill="#000" />
<rect x="637" y="415" width="1" height="48" fill="#000" />
<rect x="635" y="420" width="5" height="30" fill="#000" />
<rect x="645" y="442" width="1" height="25" fill="#000" />
<rect x="643" y="449" width="5" height="4" fill="#000" />
<rect x="653" y="441" width="1" height="15" fill="#000" />
<rect x="651" y="442" width="5" height="11" fill="#000" />
<rect x="652" y="443" width="3" height="9" fill="#fff" />
<rect x="661" y="420" width="1" height="54" fill="#000" />
<rect x="659" y="441" width="5" height="9" fill="#000" />
<rect x="669" y="445" width="1" height="25" fill="#000" />
<rect x="667" y="448" width="5" height="18" fill="#000" />
<rect x="677" y="444" width="1" height="34" fill="#000" />
<rect x="675" y="459" width="5" height="7" fill="#000" />
<rect x="676" y="460" width="3" height="5" fill="#fff" />
<rect x="685" y="454" width="1" height="38" fill="#000" />
<rect x="683" y="460" width="5" height="26" fill="#000" />
<rect x="693" y="448" width="1" height="45" fill="#000" />
<rect x="691" y="459" width="5" height="27" fill="#000" />
<rect x="692" y="460" width="3" height="25" fill="#fff" />
<rect x="701" y="466" width="1" height="5" fill="#000" />
<rect x="699" y="466" width="5" height="3" fill="#000" />
<rect x="700" y="467" width="3" height="1" fill="#fff" />
<rect x="709" y="459" width="1" height="35" fill="#000" />
<rect x="707" y="466" width="5" height="15" fill="#000" />
<rect x="717" y="470" width="1" height="23" fill="#000" />
<rect x="715" y="480" width="5" height="10" fill="#000" />
<rect x="725" y="461" width="1" height="51" fill="#000" />
<rect x="723" y="488" width="5" height="3" fill="#000" />
<rect x="733" y="487" width="1" height="27" fill="#000" />
<rect x="731" y="490" width="5" height="5" fill="#000" />
<rect x="741" y="479" width="1" height="33" fill="#000" />
<rect x="739" y="494" width="5" height="9" fill="#000" />
<rect x="749" y="487" width="1" height="16" fill="#000" />
<rect x="747" y="487" width="5" height="14" fill="#000" />
<rect x="748" y="488" width="3" height="12" fill="#fff" />
<rect x="757" y="441" width="1" height="59" fill="#000" />
<rect x="755" y="487" width="5" height="2" fill="#000" />
<rect x="765" y="452" width="1" height="45" fill="#000" />
<rect x="763" y="472" width="5" height="17" fill="#000" />
<rect x="764" y="473" width="3" height="15" fill="#fff" />
<rect x="773" y="447" width="1" height="33" fill="#000" />
<rect x="771" y="472" width="5" height="1" fill="#000" />
<rect x="781" y="442" width="1" height="38" fill="#000" />
<rect x="779" y="455" width="5" height="17" fill="#000" />
<rect x="780" y="456" width="3" height="15" fill="#fff" />
<rect x="789" y="449" width="1" height="17" fill="#000" />
<rect x="787" y="459" width="5" height="4" fill="#000" />
<rect x="788" y="460" width="3" height="2" fill="#fff" />
<rect x="797" y="441" width="1" height="33" fill="#000" />
<rect x="795" y="459" width="5" height="10" fill="#000" />
<rect x="805" y="467" width="1" height="41" fill="#000" />
<rect x="803" y="468" width="5" height="32" fill="#000" />
<rect x="813" y="489" width="1" height="33" fill="#000" />
<rect x="811" y="499" width="5" height="20" fill="#000" />
<rect x="821" y="487" width="1" height="49" fill="#000" />
<rect x="819" y="493" width="5" height="25" fill="#000" />
<rect x="820" y="494" width="3" height="23" fill="#fff" />
<rect x="829" y="498" width="1" height="12" fill="#000" />
<rect x="827" y="505" width="5" height="3" fill="#000" />
<rect x="837" y="496" width="1" height="47" fill="#000" />
<rect x="835" y="507" width="5" height="15" fill="#000" />
<rect x="845" y="518" width="1" height="31" fill="#000" />
<rect x="843" y="521" width="5" height="24" fill="#000" />
<rect x="853" y="514" width="1" height="48" fill="#000" />
<rect x="851" y="544" width="5" height="1" fill="#000" />
<rect x="861" y="485" width="1" height="66" fill="#000" />
<rect x="859" y="492" width="5" height="52" fill="#000" />
<rect x="860" y="493" width="3" height="50" fill="#fff" />
<rect x="869" y="467" width="1" height="48" fill="#000" />
<rect x="867" y="483" width="5" height="9" fill="#000" />
<rect x="868" y="484" width="3" height="7" fill="#fff" />
<rect x="877" y="471" width="1" height="19" fill="#000" />
<rect x="875" y="473" width="5" height="16" fill="#000" />
<rect x="876" y="474" width="3" height="14" fill="#fff" />
<rect x="885" y="440" width="1" height="40" fill="#000" />
<rect x="883" y="459" width="5" height="15" fill="#000" />
<rect x="884" y="460" width="3" height="13" fill="#fff" />
<rect x="893" y="443" width="1" height="43" fill="#000" />
<rect x="891" y="458" width="5" height="27" fill="#000" />
<rect x="901" y="463" width="1" height="31" fill="#000" />
<rect x="899" y="477" width="5" height="7" fill="#000" />
<rect x="900" y="478" width="3" height="5" fill="#fff" />
<rect x="909" y="442" width="1" height="47" fill="#000" />
<rect x="907" y="467" width="5" height="10" fill="#000" />
<rect x="908" y="468" width="3" height="8" fill="#fff" />
<rect x="917" y="447" width="1" height="32" fill="#000" />
<rect x="915" y="447" width="5" height="20" fill="#000" />
<rect x="916" y="448" width="3" height="18" fill="#fff" />
<rect x="925" y="436" width="1" height="18" fill="#000" />
<rect x="923" y="436" width="5" height="18" fill="#000" />
<rect x="924" y="437" width="3" height="16" fill="#fff" />
<rect x="933" y="436" width="1" height="22" fill="#000" />
<rect x="931" y="437" width="5" height="12" fill="#000" />
<rect x="941" y="443" width="1" height="40" fill="#000" />
<rect x="939" y="448" width="5" height="22" fill="#000" />
<rect x="949" y="440" width="1" height="41" fill="#000" />
<rect x="947" y="460" width="5" height="10" fill="#000" />
<rect x="948" y="461" width="3" height="8" fill="#fff" />
<rect x="957" y="456" width="1" height="39" fill="#000" />
<rect x="955" y="460" width="5" height="31" fill="#000" />
<rect x="965" y="480" width="1" height="22" fill="#000" />
<rect x="963" y="485" width="5" height="5" fill="#000" />
<rect x="964" y="486" width="3" height="3" fill="#fff" />
<rect x="973" y="489" width="1" height="6" fill="#000" />
<rect x="971" y="489" width="5" height="5" fill="#000" />
<rect x="972" y="490" width="3" height="3" fill="#fff" />
<rect x="981" y="461" width="1" height="34" fill="#000" />
<rect x="979" y="470" width="5" height="18" fill="#000" />
<rect x="980" y="471" width="3" height="16" fill="#fff" />
<rect x="989" y="458" width="1" height="28" fill="#000" />
<rect x="987" y="470" width="5" height="12" fill="#000" />
<rect x="997" y="442" width="1" height="43" fill="#000" />
<rect x="995" y="461" width="5" height="21" fill="#000" />
<rect x="996" y="462" width="3" height="19" fill="#fff" />
<rect x="1005" y="441" width="1" height="38" fill="#000" />
<rect x="1003" y="461" width="5" height="6" fill="#000" />
<rect x="1013" y="446" width="1" height="29" fill="#000" />
<rect x="1011" y="449" width="5" height="17" fill="#000" />
<rect x="1012" y="450" width="3" height="15" fill="#fff" />
<rect x="1021" y="440" width="1" height="23" fill="#000" />
<rect x="1019" y="444" width="5" height="17" fill="#000" />
<rect x="1020" y="445" width="3" height="15" fill="#fff" />
<rect x="1029" y="400" width="1" height="52" fill="#000" />
<rect x="1027" y="406" width="5" height="38" fill="#000" />
<rect x="1028" y="407" width="3" height="36" fill="#fff" />
<rect x="1037" y="383" width="1" height="38" fill="#000" />
<rect x="1035" y="395" width="5" height="12" fill="#000" />
<rect x="1036" y="396" width="3" height="10" fill="#fff" />
<rect x="1045" y="378" width="1" height="25" fill="#000" />
<rect x="1043" y="392" width="5" height="5" fill="#000" />
<rect x="1044" y="393" width="3" height="3" fill="#fff" />
<rect x="1053" y="346" width="1" height="47" fill="#000" />
<rect x="1051" y="349" width="5" height="44" fill="#000" />
<rect x="1052" y="350" width="3" height="42" fill="#fff" />
<rect x="1061" y="346" width="1" height="41" fill="#000" />
<rect x="1059" y="349" width="5" height="34" fill="#000" />
<rect x="1069" y="385" width="1" height="7" fill="#000" />
<rect x="1067" y="387" width="5" height="4" fill="#000" />
<rect x="1068" y="388" width="3" height="2" fill="#fff" />
<rect x="1077" y="365" width="1" height="30" fill="#000" />
<rect x="1075" y="387" width="5" height="4" fill="#000" />
<rect x="1085" y="389" width="1" height="52" fill="#000" />
<rect x="1083" y="390" width="5" height="47" fill="#000" />
<rect x="1093" y="432" width="1" height="31" fill="#000" />
<rect x="1091" y="436" width="5" height="18" fill="#000" />
<rect x="1101" y="447" width="1" height="15" fill="#000" />
<rect x="1099" y="453" width="5" height="1" fill="#000" />
<rect x="1109" y="425" width="1" height="32" fill="#000" />
<rect x="1107" y="439" width="5" height="15" fill="#000" />
<rect x="1108" y="440" width="3" height="13" fill="#fff" />
<rect x="1117" y="441" width="1" height="7" fill="#000" />
<rect x="1115" y="441" width="5" height="5" fill="#000" />
<rect x="1116" y="442" width="3" height="3" fill="#fff" />
<rect x="1125" y="436" width="1" height="24" fill="#000" />
<rect x="1123" y="441" width="5" height="16" fill="#000" />
<rect x="1133" y="426" width="1" height="52" fill="#000" />
<rect x="1131" y="428" width="5" height="28" fill="#000" />
<rect x="1132" y="429" width="3" height="26" fill="#fff" />
<rect x="1141" y="386" width="1" height="50" fill="#000" />
<rect x="1139" y="392" width="5" height="36" fill="#000" />
<rect x="1140" y="393" width="3" height="34" fill="#fff" />
<rect x="1149" y="383" width="1" height="30" fill="#000" />
<rect x="1147" y="392" width="5" height="19" fill="#000" />
<rect x="1157" y="401" width="1" height="30" fill="#000" />
<rect x="1155" y="405" width="5" height="6" fill="#000" />
<rect x="1156" y="406" width="3" height="4" fill="#fff" />
<rect x="1165" y="400" width="1" height="21" fill="#000" />
<rect x="1163" y="403" width="5" height="18" fill="#000" />
<rect x="1164" y="404" width="3" height="16" fill="#fff" />
<rect x="1173" y="362" width="1" height="58" fill="#000" />
<rect x="1171" y="405" width="5" height="7" fill="#000" />
<rect x="1181" y="337" width="1" height="83" fill="#000" />
<rect x="1179" y="340" width="5" height="72" fill="#000" />
<rect x="1180" y="341" width="3" height="70" fill="#fff" />
<rect x="1189" y="309" width="1" height="36" fill="#000" />
<rect x="1187" y="329" width="5" height="11" fill="#000" />
<rect x="1188" y="330" width="3" height="9" fill="#fff" />
<rect x="1197" y="319" width="1" height="41" fill="#000" />
<rect x="1195" y="329" width="5" height="9" fill="#000" />
<rect x="1205" y="303" width="1" height="58" fill="#000" />
<rect x="1203" y="313" width="5" height="25" fill="#000" />
<rect x="1204" y="314" width="3" height="23" fill="#fff" />
<rect x="1213" y="315" width="1" height="13" fill="#000" />
<rect x="1211" y="326" width="5" height="2" fill="#000" />
</g><rect x="1212" y="326.55" width="3" height="0.9" fill="#fff"/><g shape-rendering="crispEdges">
<rect x="1221" y="260" width="1" height="68" fill="#000" />
<rect x="1219" y="267" width="5" height="59" fill="#000" />
<rect x="1220" y="268" width="3" height="57" fill="#fff" />
<rect x="1229" y="234" width="1" height="45" fill="#000" />
<rect x="1227" y="266" width="5" height="2" fill="#000" />
<rect x="1237" y="229" width="1" height="46" fill="#000" />
<rect x="1235" y="229" width="5" height="38" fill="#000" />
<rect x="1236" y="230" width="3" height="36" fill="#fff" />
<rect x="1245" y="156" width="1" height="82" fill="#000" />
<rect x="1243" y="160" width="5" height="70" fill="#000" />
<rect x="1244" y="161" width="3" height="68" fill="#fff" />
<rect x="1253" y="140" width="1" height="47" fill="#000" />
<rect x="1251" y="148" width="5" height="11" fill="#000" />
<rect x="1252" y="149" width="3" height="9" fill="#fff" />
<rect x="1261" y="150" width="1" height="14" fill="#000" />
<rect x="1259" y="153" width="5" height="3" fill="#000" />
<rect x="1260" y="154" width="3" height="1" fill="#fff" />
<rect x="1269" y="102" width="1" height="55" fill="#000" />
<rect x="1267" y="108" width="5" height="46" fill="#000" />
<rect x="1268" y="109" width="3" height="44" fill="#fff" />
<rect x="1277" y="99" width="1" height="76" fill="#000" />
<rect x="1275" y="108" width="5" height="61" fill="#000" />
<rect x="1285" y="137" width="1" height="33" fill="#000" />
<rect x="1283" y="155" width="5" height="12" fill="#000" />
<rect x="1284" y="156" width="3" height="10" fill="#fff" />
<rect x="1293" y="148" width="1" height="58" fill="#000" />
<rect x="1291" y="155" width="5" height="39" fill="#000" />
<rect x="1301" y="136" width="1" height="60" fill="#000" />
<rect x="1299" y="157" width="5" height="37" fill="#000" />
<rect x="1300" y="158" width="3" height="35" fill="#fff" />
<rect x="1309" y="158" width="1" height="4" fill="#000" />
<rect x="1307" y="159" width="5" height="2" fill="#000" />
<rect x="1317" y="145" width="1" height="35" fill="#000" />
<rect x="1315" y="159" width="5" height="14" fill="#000" />
<rect x="1325" y="164" width="1" height="35" fill="#000" />
<rect x="1323" y="172" width="5" height="21" fill="#000" />
<rect x="1333" y="157" width="1" height="63" fill="#000" />
<rect x="1331" y="192" width="5" height="22" fill="#000" />
<rect x="1341" y="150" width="1" height="66" fill="#000" />
<rect x="1339" y="174" width="5" height="40" fill="#000" />
<rect x="1340" y="175" width="3" height="38" fill="#fff" />
<rect x="1349" y="140" width="1" height="52" fill="#000" />
<rect x="1347" y="161" width="5" height="13" fill="#000" />
<rect x="1348" y="162" width="3" height="11" fill="#fff" />
<rect x="1357" y="153" width="1" height="5" fill="#000" />
<rect x="1355" y="154" width="5" height="3" fill="#000" />
<rect x="1356" y="155" width="3" height="1" fill="#fff" />
<rect x="1365" y="147" width="1" height="67" fill="#000" />
<rect x="1363" y="155" width="5" height="49" fill="#000" />
<rect x="1373" y="119" width="1" height="87" fill="#000" />
<rect x="1371" y="120" width="5" height="85" fill="#000" />
<rect x="1372" y="121" width="3" height="83" fill="#fff" />
<rect x="1381" y="102" width="1" height="25" fill="#000" />
<rect x="1379" y="109" width="5" height="13" fill="#000" />
<rect x="1380" y="110" width="3" height="11" fill="#fff" />
<rect x="1389" y="78" width="1" height="40" fill="#000" />
<rect x="1387" y="82" width="5" height="28" fill="#000" />
<rect x="1388" y="83" width="3" height="26" fill="#fff" />
<rect x="1397" y="66" width="1" height="24" fill="#000" />
<rect x="1395" y="82" width="5" height="5" fill="#000" />
<rect x="1405" y="81" width="1" height="6" fill="#000" />
<rect x="1403" y="82" width="5" height="4" fill="#000" />
<rect x="1404" y="83" width="3" height="2" fill="#fff" />
<rect x="1413" y="77" width="1" height="26" fill="#000" />
<rect x="1411" y="83" width="5" height="5" fill="#000" />
<rect x="1421" y="50" width="1" height="39" fill="#000" />
<rect x="1419" y="65" width="5" height="22" fill="#000" />
<rect x="1420" y="66" width="3" height="20" fill="#fff" />
</g>
<rect x="1353" y="72" width="144" height="5" fill="#00ff00" shape-rendering="crispEdges"/>
<line x1="1350.5" y1="211" x2="1448" y2="56" stroke="#ff0000" stroke-width="3.2"/>
<polygon points="1453.3,47.3 1442.6,54.6 1452.6,61" fill="#ff0000"/>
<polygon points="1424,23.5 1435,23.5 1429.5,28.5" fill="#c8c8c8"/>
<rect x="94.5" y="148.5" width="61" height="18" fill="#fff" stroke="#ff0000" stroke-width="1" shape-rendering="crispEdges"/>
<text x="125" y="164" font-size="16" fill="#ff0000" text-anchor="middle" >0.92952</text>
<rect x="156" y="157" width="9" height="1" fill="#ff0000" shape-rendering="crispEdges"/>
<rect x="350.5" y="215.5" width="61" height="18" fill="#fff" stroke="#ff0000" stroke-width="1" shape-rendering="crispEdges"/>
<text x="381" y="231" font-size="16" fill="#ff0000" text-anchor="middle" >0.92072</text>
<rect x="412" y="224" width="9" height="1" fill="#ff0000" shape-rendering="crispEdges"/>
<rect x="382.5" y="384.5" width="61" height="18" fill="#fff" stroke="#ff0000" stroke-width="1" shape-rendering="crispEdges"/>
<text x="413" y="400" font-size="16" fill="#ff0000" text-anchor="middle" >0.89819</text>
<rect x="444" y="393" width="9" height="1" fill="#ff0000" shape-rendering="crispEdges"/>
<rect x="782.5" y="552.5" width="61" height="18" fill="#fff" stroke="#ff0000" stroke-width="1" shape-rendering="crispEdges"/>
<text x="813" y="568" font-size="16" fill="#ff0000" text-anchor="middle" >0.87579</text>
<rect x="844" y="562" width="9" height="1" fill="#ff0000" shape-rendering="crispEdges"/>
<rect x="982.5" y="337.5" width="61" height="18" fill="#fff" stroke="#ff0000" stroke-width="1" shape-rendering="crispEdges"/>
<text x="1013" y="353" font-size="16" fill="#ff0000" text-anchor="middle" >0.90446</text>
<rect x="1044" y="346" width="9" height="1" fill="#ff0000" shape-rendering="crispEdges"/>
<rect x="1062.5" y="467.5" width="61" height="18" fill="#fff" stroke="#ff0000" stroke-width="1" shape-rendering="crispEdges"/>
<text x="1093" y="483" font-size="16" fill="#ff0000" text-anchor="middle" >0.88711</text>
<rect x="1124" y="477" width="9" height="1" fill="#ff0000" shape-rendering="crispEdges"/>
<rect x="1198.5" y="66.5" width="61" height="18" fill="#fff" stroke="#ff0000" stroke-width="1" shape-rendering="crispEdges"/>
<text x="1229" y="82" font-size="16" fill="#ff0000" text-anchor="middle" >0.94043</text>
<rect x="1260.5" y="73.5" width="2" height="3" fill="#fff" stroke="#ff0000" shape-rendering="crispEdges"/>
<rect x="1263" y="75" width="7" height="1" fill="#ff0000" shape-rendering="crispEdges"/>
<rect x="1206.5" y="90.5" width="61" height="18" fill="#fff" stroke="#ff0000" stroke-width="1" shape-rendering="crispEdges"/>
<text x="1237" y="106" font-size="16" fill="#ff0000" text-anchor="middle" >0.93735</text>
<rect x="1268" y="99" width="9" height="1" fill="#ff0000" shape-rendering="crispEdges"/>
<rect x="1502.5" y="93.5" width="110" height="24" fill="none" stroke="#404040" stroke-width="1" shape-rendering="crispEdges"/>
<text x="1502.5" y="113" font-size="21" fill="#00ff00" text-anchor="start" font-weight="300" textLength="108" lengthAdjust="spacingAndGlyphs">多空转折点</text>
<path d="M1554.5 93 L1556.5 90.6 L1558.5 93" stroke="#ff7ac8" stroke-width="1" fill="none"/>
<rect x="1685" y="78" width="2" height="1" fill="#000" shape-rendering="crispEdges"/>
<text x="1690" y="81.7" font-size="9" fill="#000" text-anchor="start"  stroke="#000" stroke-width="0.1">0.94010</text>
<rect x="1685" y="111" width="2" height="1" fill="#000" shape-rendering="crispEdges"/>
<text x="1690" y="114.7" font-size="9" fill="#000" text-anchor="start"  stroke="#000" stroke-width="0.1">0.93570</text>
<rect x="1685" y="144" width="2" height="1" fill="#000" shape-rendering="crispEdges"/>
<text x="1690" y="147.7" font-size="9" fill="#000" text-anchor="start"  stroke="#000" stroke-width="0.1">0.93130</text>
<rect x="1685" y="177" width="2" height="1" fill="#000" shape-rendering="crispEdges"/>
<text x="1690" y="180.7" font-size="9" fill="#000" text-anchor="start"  stroke="#000" stroke-width="0.1">0.92690</text>
<rect x="1685" y="210" width="2" height="1" fill="#000" shape-rendering="crispEdges"/>
<text x="1690" y="213.7" font-size="9" fill="#000" text-anchor="start"  stroke="#000" stroke-width="0.1">0.92250</text>
<rect x="1685" y="243" width="2" height="1" fill="#000" shape-rendering="crispEdges"/>
<text x="1690" y="246.7" font-size="9" fill="#000" text-anchor="start"  stroke="#000" stroke-width="0.1">0.91810</text>
<rect x="1685" y="276" width="2" height="1" fill="#000" shape-rendering="crispEdges"/>
<text x="1690" y="279.7" font-size="9" fill="#000" text-anchor="start"  stroke="#000" stroke-width="0.1">0.91370</text>
<rect x="1685" y="309" width="2" height="1" fill="#000" shape-rendering="crispEdges"/>
<text x="1690" y="312.7" font-size="9" fill="#000" text-anchor="start"  stroke="#000" stroke-width="0.1">0.90930</text>
<rect x="1685" y="342" width="2" height="1" fill="#000" shape-rendering="crispEdges"/>
<text x="1690" y="345.7" font-size="9" fill="#000" text-anchor="start"  stroke="#000" stroke-width="0.1">0.90490</text>
<rect x="1685" y="375" width="2" height="1" fill="#000" shape-rendering="crispEdges"/>
<text x="1690" y="378.7" font-size="9" fill="#000" text-anchor="start"  stroke="#000" stroke-width="0.1">0.90060</text>
<rect x="1685" y="408" width="2" height="1" fill="#000" shape-rendering="crispEdges"/>
<text x="1690" y="411.7" font-size="9" fill="#000" text-anchor="start"  stroke="#000" stroke-width="0.1">0.89620</text>
<rect x="1685" y="441" width="2" height="1" fill="#000" shape-rendering="crispEdges"/>
<text x="1690" y="444.7" font-size="9" fill="#000" text-anchor="start"  stroke="#000" stroke-width="0.1">0.89180</text>
<rect x="1685" y="474" width="2" height="1" fill="#000" shape-rendering="crispEdges"/>
<text x="1690" y="477.7" font-size="9" fill="#000" text-anchor="start"  stroke="#000" stroke-width="0.1">0.88740</text>
<rect x="1685" y="507" width="2" height="1" fill="#000" shape-rendering="crispEdges"/>
<text x="1690" y="510.7" font-size="9" fill="#000" text-anchor="start"  stroke="#000" stroke-width="0.1">0.88300</text>
<rect x="1685" y="540" width="2" height="1" fill="#000" shape-rendering="crispEdges"/>
<text x="1690" y="543.7" font-size="9" fill="#000" text-anchor="start"  stroke="#000" stroke-width="0.1">0.87860</text>
<rect x="1685" y="573" width="2" height="1" fill="#000" shape-rendering="crispEdges"/>
<text x="1690" y="576.7" font-size="9" fill="#000" text-anchor="start"  stroke="#000" stroke-width="0.1">0.87420</text>
<rect x="1686" y="60" width="41" height="11" fill="#000" shape-rendering="crispEdges"/>
<text x="1690" y="68.5" font-size="9" fill="#fff" text-anchor="start"  stroke="#fff" stroke-width="0.1">0.94180</text>
<rect x="1686" y="21" width="41" height="11" fill="#ff0000" shape-rendering="crispEdges"/>
<text x="1690" y="29.5" font-size="9" fill="#fff" text-anchor="start"  stroke="#fff" stroke-width="0.1">0.94680</text>
<rect x="1686" y="38" width="41" height="11" fill="#ff0000" shape-rendering="crispEdges"/>
<text x="1690" y="46.5" font-size="9" fill="#fff" text-anchor="start"  stroke="#fff" stroke-width="0.1">0.94454</text>
<rect x="1686" y="69" width="41" height="11" fill="#00c8c8" shape-rendering="crispEdges"/>
<text x="1690" y="77.5" font-size="9" fill="#fff" text-anchor="start"  stroke="#fff" stroke-width="0.1">0.94043</text>
<rect x="1686" y="84" width="41" height="11" fill="#0000ff" shape-rendering="crispEdges"/>
<text x="1690" y="92.5" font-size="9" fill="#fff" text-anchor="start"  stroke="#fff" stroke-width="0.1">0.93844</text>
<rect x="1686" y="101" width="41" height="11" fill="#0000ff" shape-rendering="crispEdges"/>
<text x="1690" y="109.5" font-size="9" fill="#fff" text-anchor="start"  stroke="#fff" stroke-width="0.1">0.93618</text>
<rect x="1685" y="44" width="1" height="1" fill="#000" shape-rendering="crispEdges"/>
<rect x="1685" y="78" width="2" height="1" fill="#000" shape-rendering="crispEdges"/>
<polygon points="0,34.5 3,30 6.5,34.5" fill="#000"/>
<text x="12.5" y="34.5" font-size="9" fill="#000" text-anchor="start" textLength="67.5" lengthAdjust="spacingAndGlyphs" stroke="#000" stroke-width="0.1">USDCHF-,Daily</text>
<text x="86" y="34.5" font-size="9" fill="#000" text-anchor="start" textLength="140.5" lengthAdjust="spacingAndGlyphs" stroke="#000" stroke-width="0.1">0.93895 0.94378 0.93879 0.94180</text>
<rect x="0" y="25" width="2" height="1" fill="#ff0000" />
<rect x="0" y="29" width="2" height="1" fill="#ff0000" />
<rect x="1" y="25" width="1" height="5" fill="#ff0000" />
<g shape-rendering="crispEdges">
<rect x="5" y="681" width="1" height="30" fill="#c0c0c0" />
<rect x="13" y="681" width="1" height="27" fill="#c0c0c0" />
<rect x="21" y="681" width="1" height="22" fill="#c0c0c0" />
<rect x="29" y="681" width="1" height="17" fill="#c0c0c0" />
<rect x="37" y="681" width="1" height="11" fill="#c0c0c0" />
<rect x="45" y="681" width="1" height="5" fill="#c0c0c0" />
<rect x="53" y="681" width="1" height="5" fill="#c0c0c0" />
<rect x="61" y="681" width="1" height="6" fill="#c0c0c0" />
<rect x="69" y="681" width="1" height="7" fill="#c0c0c0" />
<rect x="77" y="681" width="1" height="9" fill="#c0c0c0" />
<rect x="85" y="681" width="1" height="10" fill="#c0c0c0" />
<rect x="93" y="681" width="1" height="11" fill="#c0c0c0" />
<rect x="101" y="681" width="1" height="10" fill="#c0c0c0" />
<rect x="109" y="681" width="1" height="11" fill="#c0c0c0" />
<rect x="117" y="681" width="1" height="10" fill="#c0c0c0" />
<rect x="125" y="681" width="1" height="9" fill="#c0c0c0" />
<rect x="133" y="681" width="1" height="4" fill="#c0c0c0" />
<rect x="141" y="677" width="1" height="5" fill="#c0c0c0" />
<rect x="149" y="669" width="1" height="13" fill="#c0c0c0" />
<rect x="157" y="660" width="1" height="22" fill="#c0c0c0" />
<rect x="165" y="652" width="1" height="30" fill="#c0c0c0" />
<rect x="173" y="647" width="1" height="35" fill="#c0c0c0" />
<rect x="181" y="646" width="1" height="36" fill="#c0c0c0" />
<rect x="189" y="649" width="1" height="33" fill="#c0c0c0" />
<rect x="197" y="651" width="1" height="31" fill="#c0c0c0" />
<rect x="205" y="654" width="1" height="28" fill="#c0c0c0" />
<rect x="213" y="656" width="1" height="26" fill="#c0c0c0" />
<rect x="221" y="660" width="1" height="22" fill="#c0c0c0" />
<rect x="229" y="665" width="1" height="17" fill="#c0c0c0" />
<rect x="237" y="667" width="1" height="15" fill="#c0c0c0" />
<rect x="245" y="669" width="1" height="13" fill="#c0c0c0" />
<rect x="253" y="672" width="1" height="10" fill="#c0c0c0" />
<rect x="261" y="679" width="1" height="3" fill="#c0c0c0" />
<rect x="269" y="681" width="1" height="4" fill="#c0c0c0" />
<rect x="277" y="681" width="1" height="9" fill="#c0c0c0" />
<rect x="285" y="681" width="1" height="8" fill="#c0c0c0" />
<rect x="293" y="681" width="1" height="9" fill="#c0c0c0" />
<rect x="301" y="681" width="1" height="8" fill="#c0c0c0" />
<rect x="309" y="681" width="1" height="7" fill="#c0c0c0" />
<rect x="317" y="681" width="1" height="7" fill="#c0c0c0" />
<rect x="325" y="681" width="1" height="9" fill="#c0c0c0" />
<rect x="333" y="681" width="1" height="14" fill="#c0c0c0" />
<rect x="341" y="681" width="1" height="19" fill="#c0c0c0" />
<rect x="349" y="681" width="1" height="21" fill="#c0c0c0" />
<rect x="357" y="681" width="1" height="24" fill="#c0c0c0" />
<rect x="365" y="681" width="1" height="27" fill="#c0c0c0" />
<rect x="373" y="681" width="1" height="26" fill="#c0c0c0" />
<rect x="381" y="681" width="1" height="24" fill="#c0c0c0" />
<rect x="389" y="681" width="1" height="21" fill="#c0c0c0" />
<rect x="397" y="681" width="1" height="15" fill="#c0c0c0" />
<rect x="405" y="681" width="1" height="9" fill="#c0c0c0" />
<rect x="413" y="681" width="1" height="4" fill="#c0c0c0" />
<rect x="421" y="679" width="1" height="3" fill="#c0c0c0" />
<rect x="429" y="681" width="1" height="1" fill="#c0c0c0" />
<rect x="437" y="681" width="1" height="2" fill="#c0c0c0" />
<rect x="445" y="681" width="1" height="8" fill="#c0c0c0" />
<rect x="453" y="681" width="1" height="16" fill="#c0c0c0" />
<rect x="461" y="681" width="1" height="23" fill="#c0c0c0" />
<rect x="469" y="681" width="1" height="18" fill="#c0c0c0" />
<rect x="477" y="681" width="1" height="12" fill="#c0c0c0" />
<rect x="485" y="681" width="1" height="6" fill="#c0c0c0" />
<rect x="493" y="681" width="1" height="2" fill="#c0c0c0" />
<rect x="501" y="681" width="1" height="1" fill="#c0c0c0" />
<rect x="509" y="681" width="1" height="1" fill="#c0c0c0" />
<rect x="517" y="680" width="1" height="2" fill="#c0c0c0" />
<rect x="525" y="681" width="1" height="1" fill="#c0c0c0" />
<rect x="533" y="681" width="1" height="1" fill="#c0c0c0" />
<rect x="541" y="681" width="1" height="1" fill="#c0c0c0" />
<rect x="549" y="681" width="1" height="1" fill="#c0c0c0" />
<rect x="557" y="681" width="1" height="2" fill="#c0c0c0" />
<rect x="565" y="681" width="1" height="1" fill="#c0c0c0" />
<rect x="573" y="681" width="1" height="2" fill="#c0c0c0" />
<rect x="581" y="681" width="1" height="4" fill="#c0c0c0" />
<rect x="589" y="681" width="1" height="7" fill="#c0c0c0" />
<rect x="597" y="681" width="1" height="11" fill="#c0c0c0" />
<rect x="605" y="681" width="1" height="14" fill="#c0c0c0" />
<rect x="613" y="681" width="1" height="14" fill="#c0c0c0" />
<rect x="621" y="681" width="1" height="20" fill="#c0c0c0" />
<rect x="629" y="681" width="1" height="28" fill="#c0c0c0" />
<rect x="637" y="681" width="1" height="37" fill="#c0c0c0" />
<rect x="645" y="681" width="1" height="43" fill="#c0c0c0" />
<rect x="653" y="681" width="1" height="47" fill="#c0c0c0" />
<rect x="661" y="681" width="1" height="50" fill="#c0c0c0" />
<rect x="669" y="681" width="1" height="54" fill="#c0c0c0" />
<rect x="677" y="681" width="1" height="55" fill="#c0c0c0" />
<rect x="685" y="681" width="1" height="59" fill="#c0c0c0" />
<rect x="693" y="681" width="1" height="58" fill="#c0c0c0" />
<rect x="701" y="681" width="1" height="57" fill="#c0c0c0" />
<rect x="709" y="681" width="1" height="58" fill="#c0c0c0" />
<rect x="717" y="681" width="1" height="58" fill="#c0c0c0" />
<rect x="725" y="681" width="1" height="58" fill="#c0c0c0" />
<rect x="733" y="681" width="1" height="58" fill="#c0c0c0" />
<rect x="741" y="681" width="1" height="58" fill="#c0c0c0" />
<rect x="749" y="681" width="1" height="55" fill="#c0c0c0" />
<rect x="757" y="681" width="1" height="53" fill="#c0c0c0" />
<rect x="765" y="681" width="1" height="49" fill="#c0c0c0" />
<rect x="773" y="681" width="1" height="46" fill="#c0c0c0" />
<rect x="781" y="681" width="1" height="40" fill="#c0c0c0" />
<rect x="789" y="681" width="1" height="36" fill="#c0c0c0" />
<rect x="797" y="681" width="1" height="34" fill="#c0c0c0" />
<rect x="805" y="681" width="1" height="34" fill="#c0c0c0" />
<rect x="813" y="681" width="1" height="36" fill="#c0c0c0" />
<rect x="821" y="681" width="1" height="35" fill="#c0c0c0" />
<rect x="829" y="681" width="1" height="35" fill="#c0c0c0" />
<rect x="837" y="681" width="1" height="36" fill="#c0c0c0" />
<rect x="845" y="681" width="1" height="39" fill="#c0c0c0" />
<rect x="853" y="681" width="1" height="40" fill="#c0c0c0" />
<rect x="861" y="681" width="1" height="36" fill="#c0c0c0" />
<rect x="869" y="681" width="1" height="31" fill="#c0c0c0" />
<rect x="877" y="681" width="1" height="26" fill="#c0c0c0" />
<rect x="885" y="681" width="1" height="21" fill="#c0c0c0" />
<rect x="893" y="681" width="1" height="18" fill="#c0c0c0" />
<rect x="901" y="681" width="1" height="16" fill="#c0c0c0" />
<rect x="909" y="681" width="1" height="13" fill="#c0c0c0" />
<rect x="917" y="681" width="1" height="8" fill="#c0c0c0" />
<rect x="925" y="681" width="1" height="3" fill="#c0c0c0" />
<rect x="933" y="681" width="1" height="1" fill="#c0c0c0" />
<rect x="941" y="681" width="1" height="1" fill="#c0c0c0" />
<rect x="949" y="680" width="1" height="2" fill="#c0c0c0" />
<rect x="957" y="681" width="1" height="2" fill="#c0c0c0" />
<rect x="965" y="681" width="1" height="4" fill="#c0c0c0" />
<rect x="973" y="681" width="1" height="5" fill="#c0c0c0" />
<rect x="981" y="681" width="1" height="4" fill="#c0c0c0" />
<rect x="989" y="681" width="1" height="5" fill="#c0c0c0" />
<rect x="997" y="681" width="1" height="3" fill="#c0c0c0" />
<rect x="1005" y="681" width="1" height="2" fill="#c0c0c0" />
<rect x="1013" y="680" width="1" height="2" fill="#c0c0c0" />
<rect x="1021" y="677" width="1" height="5" fill="#c0c0c0" />
<rect x="1029" y="672" width="1" height="10" fill="#c0c0c0" />
<rect x="1037" y="666" width="1" height="16" fill="#c0c0c0" />
<rect x="1045" y="662" width="1" height="20" fill="#c0c0c0" />
<rect x="1053" y="654" width="1" height="28" fill="#c0c0c0" />
<rect x="1061" y="652" width="1" height="30" fill="#c0c0c0" />
<rect x="1069" y="651" width="1" height="31" fill="#c0c0c0" />
<rect x="1077" y="651" width="1" height="31" fill="#c0c0c0" />
<rect x="1085" y="656" width="1" height="26" fill="#c0c0c0" />
<rect x="1093" y="662" width="1" height="20" fill="#c0c0c0" />
<rect x="1101" y="667" width="1" height="15" fill="#c0c0c0" />
<rect x="1109" y="669" width="1" height="13" fill="#c0c0c0" />
<rect x="1117" y="671" width="1" height="11" fill="#c0c0c0" />
<rect x="1125" y="675" width="1" height="7" fill="#c0c0c0" />
<rect x="1133" y="675" width="1" height="7" fill="#c0c0c0" />
<rect x="1141" y="671" width="1" height="11" fill="#c0c0c0" />
<rect x="1149" y="670" width="1" height="12" fill="#c0c0c0" />
<rect x="1157" y="669" width="1" height="13" fill="#c0c0c0" />
<rect x="1165" y="668" width="1" height="14" fill="#c0c0c0" />
<rect x="1173" y="668" width="1" height="14" fill="#c0c0c0" />
<rect x="1181" y="662" width="1" height="20" fill="#c0c0c0" />
<rect x="1189" y="655" width="1" height="27" fill="#c0c0c0" />
<rect x="1197" y="652" width="1" height="30" fill="#c0c0c0" />
<rect x="1205" y="647" width="1" height="35" fill="#c0c0c0" />
<rect x="1213" y="644" width="1" height="38" fill="#c0c0c0" />
<rect x="1221" y="637" width="1" height="45" fill="#c0c0c0" />
<rect x="1229" y="632" width="1" height="50" fill="#c0c0c0" />
<rect x="1237" y="625" width="1" height="57" fill="#c0c0c0" />
<rect x="1245" y="613" width="1" height="69" fill="#c0c0c0" />
<rect x="1253" y="603" width="1" height="79" fill="#c0c0c0" />
<rect x="1261" y="597" width="1" height="85" fill="#c0c0c0" />
<rect x="1269" y="588" width="1" height="94" fill="#c0c0c0" />
<rect x="1277" y="589" width="1" height="93" fill="#c0c0c0" />
<rect x="1285" y="589" width="1" height="93" fill="#c0c0c0" />
<rect x="1293" y="594" width="1" height="88" fill="#c0c0c0" />
<rect x="1301" y="595" width="1" height="87" fill="#c0c0c0" />
<rect x="1309" y="597" width="1" height="85" fill="#c0c0c0" />
<rect x="1317" y="601" width="1" height="81" fill="#c0c0c0" />
<rect x="1325" y="607" width="1" height="75" fill="#c0c0c0" />
<rect x="1333" y="615" width="1" height="67" fill="#c0c0c0" />
<rect x="1341" y="618" width="1" height="64" fill="#c0c0c0" />
<rect x="1349" y="619" width="1" height="63" fill="#c0c0c0" />
<rect x="1357" y="621" width="1" height="61" fill="#c0c0c0" />
<rect x="1365" y="627" width="1" height="55" fill="#c0c0c0" />
<rect x="1373" y="625" width="1" height="57" fill="#c0c0c0" />
<rect x="1381" y="622" width="1" height="60" fill="#c0c0c0" />
<rect x="1389" y="618" width="1" height="64" fill="#c0c0c0" />
<rect x="1397" y="616" width="1" height="66" fill="#c0c0c0" />
<rect x="1405" y="615" width="1" height="67" fill="#c0c0c0" />
<rect x="1413" y="615" width="1" height="67" fill="#c0c0c0" />
<rect x="1421" y="614" width="1" height="68" fill="#c0c0c0" />
</g>
<polyline points="0.0,718.9 5.5,718.2 13.5,717.2 21.5,715.2 29.5,712.8 37.5,709.8 45.5,706.5 53.5,702.2 61.5,698.2 69.5,695.0 77.5,692.6 85.5,690.8 93.5,689.5 101.5,688.7 109.5,688.7 117.5,689.3 125.5,689.8 133.5,689.6 141.5,688.5 149.5,686.3 157.5,683.0 165.5,678.7 173.5,673.8 181.5,668.8 189.5,664.3 197.5,660.1 205.5,656.7 213.5,654.3 221.5,653.3 229.5,653.8 237.5,655.5 245.5,658.0 253.5,660.8 261.5,664.1 269.5,667.7 277.5,671.5 285.5,675.0 293.5,678.3 301.5,680.9 309.5,683.1 317.5,685.0 325.5,687.0 333.5,688.8 341.5,690.4 349.5,691.7 357.5,693.5 365.5,695.6 373.5,697.5 381.5,699.4 389.5,701.0 397.5,701.7 405.5,701.1 413.5,699.5 421.5,697.0 429.5,694.5 437.5,691.7 445.5,689.8 453.5,688.9 461.5,689.1 469.5,689.4 477.5,689.7 485.5,689.9 493.5,690.3 501.5,690.3 509.5,690.2 517.5,689.3 525.5,687.5 533.5,685.0 541.5,683.2 549.5,682.0 557.5,681.6 565.5,681.5 573.5,681.6 581.5,682.0 589.5,682.8 597.5,683.9 605.5,685.5 613.5,686.8 621.5,688.9 629.5,691.7 637.5,695.7 645.5,700.3 653.5,705.1 661.5,709.8 669.5,714.6 677.5,719.2 685.5,724.2 693.5,728.4 701.5,731.7 709.5,734.1 717.5,735.8 725.5,737.0 733.5,737.8 741.5,738.3 749.5,738.2 757.5,737.6 765.5,736.6 773.5,735.3 781.5,733.4 789.5,730.9 797.5,728.2 805.5,725.6 813.5,723.2 821.5,720.9 829.5,718.9 837.5,717.5 845.5,716.7 853.5,716.7 861.5,716.7 869.5,716.4 877.5,715.5 885.5,713.8 893.5,711.9 901.5,709.8 909.5,707.2 917.5,703.8 925.5,699.7 933.5,695.7 941.5,692.4 949.5,689.5 957.5,687.4 965.5,685.8 973.5,684.6 981.5,683.6 989.5,683.2 997.5,683.2 1005.5,683.3 1013.5,683.2 1021.5,682.9 1029.5,681.7 1037.5,679.7 1045.5,677.2 1053.5,673.9 1061.5,670.3 1069.5,666.8 1077.5,663.3 1085.5,660.7 1093.5,659.0 1101.5,658.5 1109.5,658.8 1117.5,659.8 1125.5,662.1 1133.5,664.6 1141.5,666.8 1149.5,668.9 1157.5,670.3 1165.5,671.0 1173.5,671.2 1181.5,670.4 1189.5,668.6 1197.5,666.1 1205.5,663.0 1213.5,660.0 1221.5,656.3 1229.5,652.2 1237.5,647.4 1245.5,641.2 1253.5,634.7 1261.5,628.2 1269.5,621.1 1277.5,614.7 1285.5,608.5 1293.5,603.7 1301.5,599.6 1309.5,596.5 1317.5,595.2 1325.5,595.7 1333.5,597.7 1341.5,601.0 1349.5,604.4 1357.5,607.9 1365.5,611.6 1373.5,614.9 1381.5,617.7 1389.5,619.6 1397.5,620.6 1405.5,620.6 1413.5,620.4 1421.5,619.8" fill="none" stroke="#ff0000" stroke-width="1" stroke-dasharray="3 3" shape-rendering="crispEdges"/>
<text x="1.5" y="590.5" font-size="9" fill="#000" text-anchor="start" textLength="147.5" lengthAdjust="spacingAndGlyphs" stroke="#000" stroke-width="0.1">MACD(12,26,9) 0.007085 0.006537</text>
<text x="1688" y="589" font-size="9" fill="#000" text-anchor="start"  stroke="#000" stroke-width="0.1">0.01064</text>
<rect x="1685" y="580" width="1" height="1" fill="#000" />
<text x="1688" y="684.5" font-size="9" fill="#000" text-anchor="start"  stroke="#000" stroke-width="0.1">0.00</text>
<rect x="1685" y="681" width="2" height="1" fill="#000" />
<text x="1688" y="745" font-size="9" fill="#000" text-anchor="start"  stroke="#000" stroke-width="0.1">-0.006934</text>
<rect x="1685" y="746" width="1" height="1" fill="#000" />
<line x1="0" y1="786.5" x2="1684" y2="786.5" stroke="#c0c0c0" stroke-width="1" stroke-dasharray="3.5 2.5" shape-rendering="crispEdges"/>
<text x="1688" y="790" font-size="9" fill="#000" text-anchor="start"  stroke="#000" stroke-width="0.1">80</text>
<line x1="0" y1="837.5" x2="1684" y2="837.5" stroke="#c0c0c0" stroke-width="1" stroke-dasharray="3.5 2.5" shape-rendering="crispEdges"/>
<text x="1688" y="841" font-size="9" fill="#000" text-anchor="start"  stroke="#000" stroke-width="0.1">50</text>
<line x1="0" y1="898.5" x2="1684" y2="898.5" stroke="#c0c0c0" stroke-width="1" stroke-dasharray="3.5 2.5" shape-rendering="crispEdges"/>
<text x="1688" y="902" font-size="9" fill="#000" text-anchor="start"  stroke="#000" stroke-width="0.1">15</text>
<polyline points="0.0,839.1 5.5,839.6 13.5,842.4 21.5,837.0 29.5,833.9 37.5,827.2 45.5,823.8 53.5,839.0 61.5,843.5 69.5,844.9 77.5,846.4 85.5,847.8 93.5,847.3 101.5,840.9 109.5,847.2 117.5,841.5 125.5,838.1 133.5,826.1 141.5,815.5 149.5,808.0 157.5,804.0 165.5,800.8 173.5,802.9 181.5,818.6 189.5,831.0 197.5,827.6 205.5,833.1 213.5,829.2 221.5,836.6 229.5,843.1 237.5,836.8 245.5,838.3 253.5,838.6 261.5,855.1 269.5,853.9 277.5,856.4 285.5,839.0 293.5,843.1 301.5,839.8 309.5,838.8 317.5,838.6 325.5,850.4 333.5,858.8 341.5,860.3 349.5,854.7 357.5,861.0 365.5,861.0 373.5,849.2 381.5,846.2 389.5,840.2 397.5,827.7 405.5,823.3 413.5,823.1 421.5,818.9 429.5,843.5 437.5,841.0 445.5,856.3 453.5,864.2 461.5,864.6 469.5,833.4 477.5,829.5 485.5,826.8 493.5,830.9 501.5,834.1 509.5,836.7 517.5,836.0 525.5,838.7 533.5,837.3 541.5,839.4 549.5,838.3 557.5,840.6 565.5,834.9 573.5,839.8 581.5,847.4 589.5,851.9 597.5,856.4 605.5,857.8 613.5,842.7 621.5,862.2 629.5,869.9 637.5,874.9 645.5,875.4 653.5,870.3 661.5,871.9 669.5,875.1 677.5,871.9 685.5,877.3 693.5,864.5 701.5,866.1 709.5,869.4 717.5,871.4 725.5,871.6 733.5,872.6 741.5,874.5 749.5,865.4 757.5,865.8 765.5,856.3 773.5,856.4 781.5,846.6 789.5,848.0 797.5,852.4 805.5,863.7 813.5,869.4 821.5,855.0 829.5,859.7 837.5,864.0 845.5,870.2 853.5,870.2 861.5,844.0 869.5,840.7 877.5,836.8 885.5,831.2 893.5,841.5 901.5,838.6 909.5,834.6 917.5,827.2 925.5,823.4 933.5,829.1 941.5,838.3 949.5,834.3 957.5,845.9 965.5,843.3 973.5,844.8 981.5,836.9 989.5,841.5 997.5,833.0 1005.5,835.4 1013.5,828.5 1021.5,826.5 1029.5,813.7 1037.5,810.6 1045.5,809.8 1053.5,799.1 1061.5,815.8 1069.5,817.8 1077.5,819.4 1085.5,838.2 1093.5,843.9 1101.5,844.2 1109.5,838.2 1117.5,838.7 1125.5,844.9 1133.5,833.6 1141.5,821.6 1149.5,829.3 1157.5,827.3 1165.5,826.9 1173.5,830.7 1181.5,810.2 1189.5,807.8 1197.5,811.6 1205.5,805.9 1213.5,811.8 1221.5,800.1 1229.5,800.3 1237.5,794.0 1245.5,785.6 1253.5,784.4 1261.5,786.6 1269.5,782.0 1277.5,804.9 1285.5,803.0 1293.5,815.4 1301.5,809.4 1309.5,810.5 1317.5,814.3 1325.5,820.8 1333.5,827.2 1341.5,818.8 1349.5,816.2 1357.5,814.8 1365.5,830.3 1373.5,814.3 1381.5,812.5 1389.5,808.4 1397.5,809.7 1405.5,809.0 1413.5,810.8 1421.5,806.8" fill="none" stroke="#1e90ff" stroke-width="1.0" shape-rendering="crispEdges"/>
<text x="1.5" y="762.5" font-size="9" fill="#000" text-anchor="start" textLength="67" lengthAdjust="spacingAndGlyphs" stroke="#000" stroke-width="0.1">RSI(14) 68.2756</text>
<text x="1688" y="761" font-size="9" fill="#000" text-anchor="start"  stroke="#000" stroke-width="0.1">100</text>
<text x="1688" y="921" font-size="9" fill="#000" text-anchor="start"  stroke="#000" stroke-width="0.1">0</text>
<rect x="1685" y="752" width="1" height="1" fill="#000" />
<rect x="1685" y="922" width="1" height="1" fill="#000" />
<rect x="-3" y="925" width="1" height="4" fill="#000" shape-rendering="crispEdges"/>
<text x="-4" y="937" font-size="9" fill="#000" text-anchor="start" letter-spacing="0.2" stroke="#000" stroke-width="0.1">1 Sep 2020</text>
<rect x="61" y="925" width="1" height="4" fill="#000" shape-rendering="crispEdges"/>
<text x="60" y="937" font-size="9" fill="#000" text-anchor="start" letter-spacing="0.2" stroke="#000" stroke-width="0.1">10 Sep 2020</text>
<rect x="125" y="925" width="1" height="4" fill="#000" shape-rendering="crispEdges"/>
<text x="124" y="937" font-size="9" fill="#000" text-anchor="start" letter-spacing="0.2" stroke="#000" stroke-width="0.1">20 Sep 2020</text>
<rect x="189" y="925" width="1" height="4" fill="#000" shape-rendering="crispEdges"/>
<text x="188" y="937" font-size="9" fill="#000" text-anchor="start" letter-spacing="0.2" stroke="#000" stroke-width="0.1">29 Sep 2020</text>
<rect x="253" y="925" width="1" height="4" fill="#000" shape-rendering="crispEdges"/>
<text x="252" y="937" font-size="9" fill="#000" text-anchor="start" letter-spacing="0.2" stroke="#000" stroke-width="0.1">8 Oct 2020</text>
<rect x="317" y="925" width="1" height="4" fill="#000" shape-rendering="crispEdges"/>
<text x="316" y="937" font-size="9" fill="#000" text-anchor="start" letter-spacing="0.2" stroke="#000" stroke-width="0.1">18 Oct 2020</text>
<rect x="381" y="925" width="1" height="4" fill="#000" shape-rendering="crispEdges"/>
<text x="380" y="937" font-size="9" fill="#000" text-anchor="start" letter-spacing="0.2" stroke="#000" stroke-width="0.1">27 Oct 2020</text>
<rect x="445" y="925" width="1" height="4" fill="#000" shape-rendering="crispEdges"/>
<text x="444" y="937" font-size="9" fill="#000" text-anchor="start" letter-spacing="0.2" stroke="#000" stroke-width="0.1">5 Nov 2020</text>
<rect x="509" y="925" width="1" height="4" fill="#000" shape-rendering="crispEdges"/>
<text x="508" y="937" font-size="9" fill="#000" text-anchor="start" letter-spacing="0.2" stroke="#000" stroke-width="0.1">15 Nov 2020</text>
<rect x="573" y="925" width="1" height="4" fill="#000" shape-rendering="crispEdges"/>
<text x="572" y="937" font-size="9" fill="#000" text-anchor="start" letter-spacing="0.2" stroke="#000" stroke-width="0.1">24 Nov 2020</text>
<rect x="637" y="925" width="1" height="4" fill="#000" shape-rendering="crispEdges"/>
<text x="636" y="937" font-size="9" fill="#000" text-anchor="start" letter-spacing="0.2" stroke="#000" stroke-width="0.1">3 Dec 2020</text>
<rect x="701" y="925" width="1" height="4" fill="#000" shape-rendering="crispEdges"/>
<text x="700" y="937" font-size="9" fill="#000" text-anchor="start" letter-spacing="0.2" stroke="#000" stroke-width="0.1">13 Dec 2020</text>
<rect x="765" y="925" width="1" height="4" fill="#000" shape-rendering="crispEdges"/>
<text x="764" y="937" font-size="9" fill="#000" text-anchor="start" letter-spacing="0.2" stroke="#000" stroke-width="0.1">22 Dec 2020</text>
<rect x="829" y="925" width="1" height="4" fill="#000" shape-rendering="crispEdges"/>
<text x="828" y="937" font-size="9" fill="#000" text-anchor="start" letter-spacing="0.2" stroke="#000" stroke-width="0.1">3 Jan 2021</text>
<rect x="893" y="925" width="1" height="4" fill="#000" shape-rendering="crispEdges"/>
<text x="892" y="937" font-size="9" fill="#000" text-anchor="start" letter-spacing="0.2" stroke="#000" stroke-width="0.1">12 Jan 2021</text>
<rect x="957" y="925" width="1" height="4" fill="#000" shape-rendering="crispEdges"/>
<text x="956" y="937" font-size="9" fill="#000" text-anchor="start" letter-spacing="0.2" stroke="#000" stroke-width="0.1">21 Jan 2021</text>
<rect x="1021" y="925" width="1" height="4" fill="#000" shape-rendering="crispEdges"/>
<text x="1020" y="937" font-size="9" fill="#000" text-anchor="start" letter-spacing="0.2" stroke="#000" stroke-width="0.1">31 Jan 2021</text>
<rect x="1085" y="925" width="1" height="4" fill="#000" shape-rendering="crispEdges"/>
<text x="1084" y="937" font-size="9" fill="#000" text-anchor="start" letter-spacing="0.2" stroke="#000" stroke-width="0.1">9 Feb 2021</text>
<rect x="1149" y="925" width="1" height="4" fill="#000" shape-rendering="crispEdges"/>
<text x="1148" y="937" font-size="9" fill="#000" text-anchor="start" letter-spacing="0.2" stroke="#000" stroke-width="0.1">18 Feb 2021</text>
<rect x="1213" y="925" width="1" height="4" fill="#000" shape-rendering="crispEdges"/>
<text x="1212" y="937" font-size="9" fill="#000" text-anchor="start" letter-spacing="0.2" stroke="#000" stroke-width="0.1">28 Feb 2021</text>
<rect x="1277" y="925" width="1" height="4" fill="#000" shape-rendering="crispEdges"/>
<text x="1276" y="937" font-size="9" fill="#000" text-anchor="start" letter-spacing="0.2" stroke="#000" stroke-width="0.1">9 Mar 2021</text>
<rect x="1341" y="925" width="1" height="4" fill="#000" shape-rendering="crispEdges"/>
<text x="1340" y="937" font-size="9" fill="#000" text-anchor="start" letter-spacing="0.2" stroke="#000" stroke-width="0.1">18 Mar 2021</text>
<rect x="1405" y="925" width="1" height="4" fill="#000" shape-rendering="crispEdges"/>
<text x="1404" y="937" font-size="9" fill="#000" text-anchor="start" letter-spacing="0.2" stroke="#000" stroke-width="0.1">28 Mar 2021</text>
<defs><linearGradient id="gT" x1="0" y1="0" x2="0" y2="1"><stop offset="0" stop-color="#f04848"/><stop offset="1" stop-color="#d82c2c"/></linearGradient>
<linearGradient id="gB" gradientUnits="userSpaceOnUse" x1="0" y1="67" x2="0" y2="107"><stop offset="0" stop-color="#d93030"/><stop offset="0.5" stop-color="#c41818"/><stop offset="1" stop-color="#ae0000"/></linearGradient>
<linearGradient id="gS" x1="0" y1="0" x2="0" y2="1"><stop offset="0" stop-color="#f6f6f6"/><stop offset="1" stop-color="#d4d4d4"/></linearGradient></defs>
<g id="panel">
<rect x="0" y="43" width="219" height="65" fill="#fff"/>
<rect x="51.5" y="43" width="116" height="24" fill="#f0f0f0"/>
<rect x="0.5" y="43" width="51" height="24.5" fill="url(#gT)"/>
<rect x="167.5" y="43" width="51.5" height="24.5" fill="url(#gT)"/>
<rect x="0.5" y="67" width="108.3" height="40.3" fill="url(#gB)"/>
<rect x="111" y="67" width="108" height="40.3" fill="url(#gB)"/>
<rect x="4" y="66.7" width="44" height="0.9" fill="#a01010"/>
<rect x="171" y="66.7" width="44" height="0.9" fill="#a01010"/>
<rect x="54.5" y="43.5" width="110" height="20.5" fill="#fff" stroke="#b8b8b8" stroke-width="1"/>
<rect x="55.5" y="44.5" width="19" height="19" fill="url(#gS)" stroke="#c4c4c4" stroke-width="0.8"/>
<rect x="144.5" y="44.5" width="19" height="19" fill="url(#gS)" stroke="#c4c4c4" stroke-width="0.8"/>
<polygon points="62.3,52.2 66.9,52.2 64.6,55" fill="#4a5fc0"/>
<polygon points="151.3,54.8 155.9,54.8 153.6,52" fill="#4a5fc0"/>
<text x="139.5" y="57.5" font-size="11.5" fill="#000" text-anchor="end">1.00</text>
<text x="25" y="58.8" font-size="11" fill="#fff" text-anchor="middle">SELL</text>
<text x="192" y="58.8" font-size="11" fill="#fff" text-anchor="middle">BUY</text>
<text x="20" y="97.5" font-size="12" font-weight="bold" fill="#fff">0.94</text>
<text x="47.8" y="97.7" font-size="31.5" fill="#fff" stroke="url(#gB)" stroke-width="0.6">18</text>
<text x="86.8" y="82.5" font-size="12" fill="#fff" font-weight="bold">0</text>
<text x="130" y="97.5" font-size="12" font-weight="bold" fill="#fff">0.94</text>
<text x="158.3" y="97.7" font-size="31.5" fill="#fff" stroke="url(#gB)" stroke-width="0.6">30</text>
<text x="197.7" y="82.5" font-size="12" fill="#fff" font-weight="bold">4</text>
<rect x="0" y="109" width="2" height="1" fill="#0000ff"/>
</g>
</svg></body></html>
